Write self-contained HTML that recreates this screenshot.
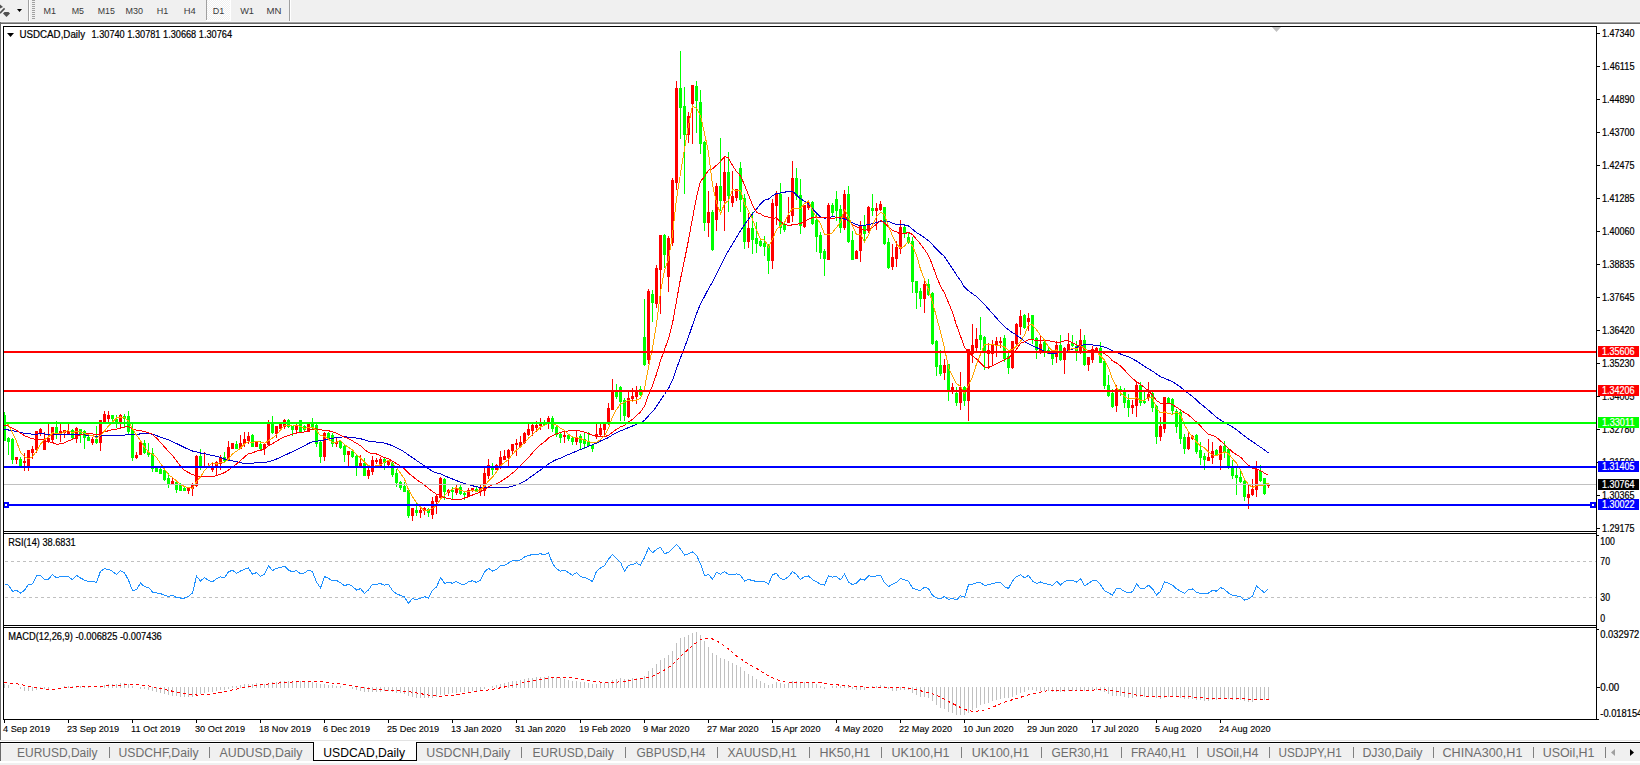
<!DOCTYPE html>
<html><head><meta charset="utf-8"><title>USDCAD,Daily</title>
<style>
html,body{margin:0;padding:0;width:1640px;height:765px;overflow:hidden;background:#f0f0f0;}
svg{display:block;font-family:"Liberation Sans",sans-serif;}
</style></head><body>
<svg width="1640" height="765" viewBox="0 0 1640 765">
<defs>
<pattern id="dith" x="0" y="0" width="2" height="2" patternUnits="userSpaceOnUse"><rect width="2" height="2" fill="#f0f0f0"/><rect width="1" height="1" fill="#fff"/><rect x="1" y="1" width="1" height="1" fill="#fff"/></pattern>
<clipPath id="mainclip"><rect x="4" y="27" width="1592" height="504"/></clipPath>
<clipPath id="rsiclip"><rect x="4" y="534" width="1592" height="91"/></clipPath>
<clipPath id="macdclip"><rect x="4" y="628" width="1592" height="91"/></clipPath>
</defs>
<rect x="0" y="0" width="1640" height="22" fill="#f0f0f0"/><rect x="0" y="21" width="1640" height="1" fill="#f7f7f7"/><rect x="0" y="22" width="1640" height="1" fill="#a0a0a0"/><rect x="0" y="23" width="1640" height="1" fill="#696969"/><path d="M0 4.5 L3 7 L0 8.5 Z" fill="#505050"/><path d="M4.6 8.4 L0 13.2" stroke="#505050" stroke-width="1.6"/><path d="M4.5 12 L8.5 12 L10 13.5 L6.5 17 L3 13.5 Z" fill="#505050"/><path d="M17 9 L22 9 L19.5 12 Z" fill="#000"/><rect x="28" y="0" width="1" height="21" fill="#a0a0a0"/><rect x="29" y="0" width="1" height="21" fill="#fff"/><rect x="32" y="0" width="3" height="1" fill="#a0a0a0"/><rect x="32" y="2" width="3" height="1" fill="#a0a0a0"/><rect x="32" y="4" width="3" height="1" fill="#a0a0a0"/><rect x="32" y="6" width="3" height="1" fill="#a0a0a0"/><rect x="32" y="8" width="3" height="1" fill="#a0a0a0"/><rect x="32" y="10" width="3" height="1" fill="#a0a0a0"/><rect x="32" y="12" width="3" height="1" fill="#a0a0a0"/><rect x="32" y="14" width="3" height="1" fill="#a0a0a0"/><rect x="32" y="16" width="3" height="1" fill="#a0a0a0"/><rect x="32" y="18" width="3" height="1" fill="#a0a0a0"/><rect x="207" y="0" width="24" height="20" fill="url(#dith)" shape-rendering="crispEdges"/><rect x="230" y="0" width="1" height="21" fill="#fff"/><rect x="206" y="20" width="25" height="1" fill="#fff"/><rect x="206" y="0" width="1" height="20" fill="#a0a0a0"/><rect x="289" y="0" width="1" height="21" fill="#a0a0a0"/><rect x="290" y="0" width="1" height="21" fill="#fff"/><text x="43.5" y="13.7" font-size="9.5" fill="#3a3a3a" textLength="12.5" lengthAdjust="spacingAndGlyphs">M1</text><text x="71.7" y="13.7" font-size="9.5" fill="#3a3a3a" textLength="12.3" lengthAdjust="spacingAndGlyphs">M5</text><text x="97.7" y="13.7" font-size="9.5" fill="#3a3a3a" textLength="17.1" lengthAdjust="spacingAndGlyphs">M15</text><text x="125.5" y="13.7" font-size="9.5" fill="#3a3a3a" textLength="17.5" lengthAdjust="spacingAndGlyphs">M30</text><text x="156.8" y="13.7" font-size="9.5" fill="#3a3a3a" textLength="11.5" lengthAdjust="spacingAndGlyphs">H1</text><text x="183.7" y="13.7" font-size="9.5" fill="#3a3a3a" textLength="12.0" lengthAdjust="spacingAndGlyphs">H4</text><text x="212.8" y="13.7" font-size="9.5" fill="#3a3a3a" textLength="11.5" lengthAdjust="spacingAndGlyphs">D1</text><text x="240.2" y="13.7" font-size="9.5" fill="#3a3a3a" textLength="13.8" lengthAdjust="spacingAndGlyphs">W1</text><text x="266.5" y="13.7" font-size="9.5" fill="#3a3a3a" textLength="14.9" lengthAdjust="spacingAndGlyphs">MN</text><rect x="1" y="24" width="1639" height="716" fill="#fff"/><rect x="0" y="22" width="1" height="718" fill="#696969"/><g clip-path="url(#mainclip)" shape-rendering="crispEdges"><rect x="4" y="412" width="1" height="29" fill="#00ff00"/><rect x="3" y="415" width="3" height="26" fill="#00ff00"/><rect x="8" y="437" width="1" height="18" fill="#00ff00"/><rect x="7" y="438" width="3" height="4" fill="#00ff00"/><rect x="12" y="438" width="1" height="26" fill="#00ff00"/><rect x="11" y="439" width="3" height="21" fill="#00ff00"/><rect x="16" y="457" width="1" height="7" fill="#ff0000"/><rect x="15" y="457" width="3" height="3" fill="#ff0000"/><rect x="20" y="457" width="1" height="10" fill="#00ff00"/><rect x="19" y="459" width="3" height="8" fill="#00ff00"/><rect x="24" y="453" width="1" height="18" fill="#ff0000"/><rect x="23" y="461" width="3" height="2" fill="#ff0000"/><rect x="28" y="450" width="1" height="21" fill="#ff0000"/><rect x="27" y="450" width="3" height="17" fill="#ff0000"/><rect x="32" y="446" width="1" height="13" fill="#ff0000"/><rect x="31" y="449" width="3" height="4" fill="#ff0000"/><rect x="36" y="431" width="1" height="22" fill="#ff0000"/><rect x="35" y="431" width="3" height="19" fill="#ff0000"/><rect x="40" y="428" width="1" height="8" fill="#ff0000"/><rect x="39" y="429" width="3" height="5" fill="#ff0000"/><rect x="44" y="432" width="1" height="18" fill="#ff0000"/><rect x="43" y="439" width="3" height="11" fill="#ff0000"/><rect x="48" y="424" width="1" height="19" fill="#ff0000"/><rect x="47" y="438" width="3" height="3" fill="#ff0000"/><rect x="52" y="427" width="1" height="16" fill="#ff0000"/><rect x="51" y="427" width="3" height="13" fill="#ff0000"/><rect x="56" y="421" width="1" height="18" fill="#00ff00"/><rect x="55" y="427" width="3" height="8" fill="#00ff00"/><rect x="60" y="424" width="1" height="18" fill="#ff0000"/><rect x="59" y="431" width="3" height="4" fill="#ff0000"/><rect x="64" y="430" width="1" height="8" fill="#ff0000"/><rect x="63" y="430" width="3" height="3" fill="#ff0000"/><rect x="68" y="424" width="1" height="10" fill="#ff0000"/><rect x="67" y="431" width="3" height="3" fill="#ff0000"/><rect x="72" y="429" width="1" height="11" fill="#00ff00"/><rect x="71" y="430" width="3" height="8" fill="#00ff00"/><rect x="76" y="427" width="1" height="16" fill="#ff0000"/><rect x="75" y="428" width="3" height="11" fill="#ff0000"/><rect x="80" y="429" width="1" height="14" fill="#00ff00"/><rect x="79" y="429" width="3" height="5" fill="#00ff00"/><rect x="84" y="430" width="1" height="19" fill="#00ff00"/><rect x="83" y="431" width="3" height="7" fill="#00ff00"/><rect x="88" y="435" width="1" height="6" fill="#00ff00"/><rect x="87" y="437" width="3" height="4" fill="#00ff00"/><rect x="92" y="437" width="1" height="8" fill="#ff0000"/><rect x="91" y="439" width="3" height="4" fill="#ff0000"/><rect x="96" y="426" width="1" height="18" fill="#00ff00"/><rect x="95" y="439" width="3" height="4" fill="#00ff00"/><rect x="100" y="420" width="1" height="31" fill="#ff0000"/><rect x="99" y="420" width="3" height="23" fill="#ff0000"/><rect x="104" y="411" width="1" height="12" fill="#ff0000"/><rect x="103" y="414" width="3" height="8" fill="#ff0000"/><rect x="108" y="411" width="1" height="12" fill="#ff0000"/><rect x="107" y="415" width="3" height="4" fill="#ff0000"/><rect x="112" y="415" width="1" height="6" fill="#00ff00"/><rect x="111" y="415" width="3" height="4" fill="#00ff00"/><rect x="116" y="415" width="1" height="13" fill="#00ff00"/><rect x="115" y="419" width="3" height="5" fill="#00ff00"/><rect x="120" y="414" width="1" height="15" fill="#ff0000"/><rect x="119" y="415" width="3" height="8" fill="#ff0000"/><rect x="124" y="414" width="1" height="13" fill="#00ff00"/><rect x="123" y="416" width="3" height="3" fill="#00ff00"/><rect x="128" y="411" width="1" height="23" fill="#00ff00"/><rect x="127" y="416" width="3" height="16" fill="#00ff00"/><rect x="132" y="424" width="1" height="37" fill="#00ff00"/><rect x="131" y="429" width="3" height="29" fill="#00ff00"/><rect x="136" y="452" width="1" height="7" fill="#ff0000"/><rect x="135" y="455" width="3" height="3" fill="#ff0000"/><rect x="140" y="442" width="1" height="13" fill="#ff0000"/><rect x="139" y="442" width="3" height="13" fill="#ff0000"/><rect x="144" y="440" width="1" height="14" fill="#00ff00"/><rect x="143" y="443" width="3" height="10" fill="#00ff00"/><rect x="148" y="443" width="1" height="14" fill="#00ff00"/><rect x="147" y="452" width="3" height="3" fill="#00ff00"/><rect x="152" y="448" width="1" height="24" fill="#00ff00"/><rect x="151" y="453" width="3" height="16" fill="#00ff00"/><rect x="156" y="466" width="1" height="6" fill="#00ff00"/><rect x="155" y="467" width="3" height="5" fill="#00ff00"/><rect x="160" y="468" width="1" height="6" fill="#00ff00"/><rect x="159" y="469" width="3" height="5" fill="#00ff00"/><rect x="164" y="469" width="1" height="12" fill="#00ff00"/><rect x="163" y="470" width="3" height="10" fill="#00ff00"/><rect x="168" y="473" width="1" height="15" fill="#00ff00"/><rect x="167" y="478" width="3" height="6" fill="#00ff00"/><rect x="172" y="477" width="1" height="8" fill="#ff0000"/><rect x="171" y="481" width="3" height="4" fill="#ff0000"/><rect x="176" y="480" width="1" height="13" fill="#00ff00"/><rect x="175" y="482" width="3" height="8" fill="#00ff00"/><rect x="180" y="483" width="1" height="8" fill="#00ff00"/><rect x="179" y="484" width="3" height="7" fill="#00ff00"/><rect x="184" y="486" width="1" height="5" fill="#00ff00"/><rect x="183" y="488" width="3" height="3" fill="#00ff00"/><rect x="188" y="487" width="1" height="7" fill="#ff0000"/><rect x="187" y="488" width="3" height="3" fill="#ff0000"/><rect x="192" y="483" width="1" height="13" fill="#ff0000"/><rect x="191" y="484" width="3" height="5" fill="#ff0000"/><rect x="196" y="455" width="1" height="32" fill="#ff0000"/><rect x="195" y="456" width="3" height="30" fill="#ff0000"/><rect x="200" y="449" width="1" height="21" fill="#00ff00"/><rect x="199" y="456" width="3" height="11" fill="#00ff00"/><rect x="204" y="452" width="1" height="15" fill="#ff0000"/><rect x="208" y="463" width="1" height="5" fill="#ff0000"/><rect x="212" y="462" width="1" height="10" fill="#ff0000"/><rect x="211" y="468" width="3" height="2" fill="#ff0000"/><rect x="216" y="461" width="1" height="15" fill="#ff0000"/><rect x="215" y="462" width="3" height="4" fill="#ff0000"/><rect x="220" y="455" width="1" height="15" fill="#ff0000"/><rect x="219" y="458" width="3" height="6" fill="#ff0000"/><rect x="224" y="452" width="1" height="10" fill="#00ff00"/><rect x="223" y="457" width="3" height="4" fill="#00ff00"/><rect x="228" y="441" width="1" height="20" fill="#ff0000"/><rect x="227" y="447" width="3" height="14" fill="#ff0000"/><rect x="232" y="443" width="1" height="6" fill="#ff0000"/><rect x="231" y="443" width="3" height="6" fill="#ff0000"/><rect x="236" y="441" width="1" height="8" fill="#00ff00"/><rect x="235" y="444" width="3" height="5" fill="#00ff00"/><rect x="240" y="435" width="1" height="14" fill="#ff0000"/><rect x="239" y="443" width="3" height="6" fill="#ff0000"/><rect x="244" y="432" width="1" height="15" fill="#ff0000"/><rect x="243" y="439" width="3" height="5" fill="#ff0000"/><rect x="248" y="432" width="1" height="12" fill="#ff0000"/><rect x="247" y="436" width="3" height="5" fill="#ff0000"/><rect x="252" y="434" width="1" height="13" fill="#00ff00"/><rect x="251" y="435" width="3" height="12" fill="#00ff00"/><rect x="256" y="441" width="1" height="6" fill="#ff0000"/><rect x="255" y="442" width="3" height="5" fill="#ff0000"/><rect x="260" y="441" width="1" height="9" fill="#00ff00"/><rect x="259" y="444" width="3" height="5" fill="#00ff00"/><rect x="264" y="443" width="1" height="12" fill="#ff0000"/><rect x="263" y="444" width="3" height="5" fill="#ff0000"/><rect x="268" y="420" width="1" height="26" fill="#ff0000"/><rect x="267" y="424" width="3" height="21" fill="#ff0000"/><rect x="272" y="416" width="1" height="18" fill="#00ff00"/><rect x="271" y="424" width="3" height="9" fill="#00ff00"/><rect x="276" y="426" width="1" height="12" fill="#ff0000"/><rect x="275" y="426" width="3" height="8" fill="#ff0000"/><rect x="280" y="424" width="1" height="5" fill="#ff0000"/><rect x="279" y="424" width="3" height="5" fill="#ff0000"/><rect x="284" y="419" width="1" height="10" fill="#ff0000"/><rect x="283" y="420" width="3" height="7" fill="#ff0000"/><rect x="288" y="419" width="1" height="9" fill="#00ff00"/><rect x="287" y="420" width="3" height="7" fill="#00ff00"/><rect x="292" y="426" width="1" height="10" fill="#00ff00"/><rect x="291" y="426" width="3" height="4" fill="#00ff00"/><rect x="296" y="424" width="1" height="8" fill="#ff0000"/><rect x="295" y="426" width="3" height="4" fill="#ff0000"/><rect x="300" y="420" width="1" height="12" fill="#00ff00"/><rect x="299" y="420" width="3" height="12" fill="#00ff00"/><rect x="304" y="425" width="1" height="6" fill="#00ff00"/><rect x="303" y="426" width="3" height="4" fill="#00ff00"/><rect x="308" y="424" width="1" height="8" fill="#ff0000"/><rect x="307" y="424" width="3" height="8" fill="#ff0000"/><rect x="312" y="418" width="1" height="12" fill="#00ff00"/><rect x="311" y="424" width="3" height="3" fill="#00ff00"/><rect x="316" y="424" width="1" height="23" fill="#00ff00"/><rect x="315" y="425" width="3" height="19" fill="#00ff00"/><rect x="320" y="441" width="1" height="22" fill="#00ff00"/><rect x="319" y="442" width="3" height="15" fill="#00ff00"/><rect x="324" y="432" width="1" height="29" fill="#ff0000"/><rect x="323" y="433" width="3" height="24" fill="#ff0000"/><rect x="328" y="432" width="1" height="6" fill="#00ff00"/><rect x="327" y="433" width="3" height="5" fill="#00ff00"/><rect x="332" y="433" width="1" height="14" fill="#00ff00"/><rect x="331" y="435" width="3" height="9" fill="#00ff00"/><rect x="336" y="438" width="1" height="9" fill="#ff0000"/><rect x="335" y="442" width="3" height="2" fill="#ff0000"/><rect x="340" y="441" width="1" height="8" fill="#00ff00"/><rect x="339" y="441" width="3" height="7" fill="#00ff00"/><rect x="344" y="445" width="1" height="17" fill="#00ff00"/><rect x="343" y="446" width="3" height="9" fill="#00ff00"/><rect x="348" y="451" width="1" height="15" fill="#ff0000"/><rect x="347" y="451" width="3" height="4" fill="#ff0000"/><rect x="352" y="450" width="1" height="8" fill="#00ff00"/><rect x="351" y="451" width="3" height="6" fill="#00ff00"/><rect x="356" y="455" width="1" height="21" fill="#00ff00"/><rect x="355" y="456" width="3" height="10" fill="#00ff00"/><rect x="360" y="455" width="1" height="11" fill="#ff0000"/><rect x="359" y="463" width="3" height="3" fill="#ff0000"/><rect x="364" y="458" width="1" height="18" fill="#00ff00"/><rect x="363" y="463" width="3" height="13" fill="#00ff00"/><rect x="368" y="468" width="1" height="11" fill="#ff0000"/><rect x="367" y="470" width="3" height="6" fill="#ff0000"/><rect x="372" y="456" width="1" height="19" fill="#ff0000"/><rect x="371" y="460" width="3" height="12" fill="#ff0000"/><rect x="376" y="458" width="1" height="6" fill="#ff0000"/><rect x="375" y="460" width="3" height="2" fill="#ff0000"/><rect x="380" y="457" width="1" height="10" fill="#ff0000"/><rect x="379" y="459" width="3" height="7" fill="#ff0000"/><rect x="384" y="458" width="1" height="12" fill="#00ff00"/><rect x="383" y="459" width="3" height="4" fill="#00ff00"/><rect x="388" y="460" width="1" height="6" fill="#ff0000"/><rect x="387" y="461" width="3" height="4" fill="#ff0000"/><rect x="392" y="462" width="1" height="15" fill="#00ff00"/><rect x="391" y="463" width="3" height="12" fill="#00ff00"/><rect x="396" y="469" width="1" height="18" fill="#00ff00"/><rect x="395" y="473" width="3" height="10" fill="#00ff00"/><rect x="400" y="481" width="1" height="9" fill="#00ff00"/><rect x="399" y="482" width="3" height="6" fill="#00ff00"/><rect x="404" y="482" width="1" height="10" fill="#00ff00"/><rect x="403" y="486" width="3" height="6" fill="#00ff00"/><rect x="408" y="488" width="1" height="30" fill="#00ff00"/><rect x="407" y="490" width="3" height="26" fill="#00ff00"/><rect x="412" y="508" width="1" height="13" fill="#ff0000"/><rect x="411" y="508" width="3" height="8" fill="#ff0000"/><rect x="416" y="503" width="1" height="13" fill="#00ff00"/><rect x="415" y="510" width="3" height="3" fill="#00ff00"/><rect x="420" y="506" width="1" height="12" fill="#ff0000"/><rect x="419" y="510" width="3" height="3" fill="#ff0000"/><rect x="424" y="507" width="1" height="8" fill="#ff0000"/><rect x="423" y="508" width="3" height="3" fill="#ff0000"/><rect x="428" y="508" width="1" height="9" fill="#00ff00"/><rect x="427" y="509" width="3" height="4" fill="#00ff00"/><rect x="432" y="497" width="1" height="22" fill="#ff0000"/><rect x="431" y="501" width="3" height="14" fill="#ff0000"/><rect x="436" y="494" width="1" height="20" fill="#ff0000"/><rect x="435" y="496" width="3" height="6" fill="#ff0000"/><rect x="440" y="477" width="1" height="23" fill="#ff0000"/><rect x="439" y="478" width="3" height="20" fill="#ff0000"/><rect x="444" y="478" width="1" height="22" fill="#00ff00"/><rect x="443" y="479" width="3" height="13" fill="#00ff00"/><rect x="448" y="489" width="1" height="7" fill="#ff0000"/><rect x="447" y="490" width="3" height="3" fill="#ff0000"/><rect x="452" y="487" width="1" height="12" fill="#00ff00"/><rect x="451" y="490" width="3" height="2" fill="#00ff00"/><rect x="456" y="484" width="1" height="11" fill="#ff0000"/><rect x="455" y="488" width="3" height="5" fill="#ff0000"/><rect x="460" y="484" width="1" height="11" fill="#00ff00"/><rect x="459" y="487" width="3" height="7" fill="#00ff00"/><rect x="464" y="491" width="1" height="9" fill="#00ff00"/><rect x="463" y="493" width="3" height="2" fill="#00ff00"/><rect x="468" y="488" width="1" height="9" fill="#ff0000"/><rect x="467" y="490" width="3" height="6" fill="#ff0000"/><rect x="472" y="488" width="1" height="4" fill="#ff0000"/><rect x="471" y="488" width="3" height="3" fill="#ff0000"/><rect x="476" y="487" width="1" height="5" fill="#00ff00"/><rect x="475" y="489" width="3" height="3" fill="#00ff00"/><rect x="480" y="484" width="1" height="12" fill="#ff0000"/><rect x="479" y="488" width="3" height="4" fill="#ff0000"/><rect x="484" y="468" width="1" height="28" fill="#ff0000"/><rect x="483" y="473" width="3" height="18" fill="#ff0000"/><rect x="488" y="459" width="1" height="20" fill="#ff0000"/><rect x="487" y="465" width="3" height="11" fill="#ff0000"/><rect x="492" y="463" width="1" height="12" fill="#00ff00"/><rect x="491" y="467" width="3" height="3" fill="#00ff00"/><rect x="496" y="464" width="1" height="6" fill="#ff0000"/><rect x="495" y="465" width="3" height="5" fill="#ff0000"/><rect x="500" y="451" width="1" height="18" fill="#ff0000"/><rect x="499" y="457" width="3" height="11" fill="#ff0000"/><rect x="504" y="450" width="1" height="10" fill="#ff0000"/><rect x="503" y="456" width="3" height="4" fill="#ff0000"/><rect x="508" y="449" width="1" height="17" fill="#ff0000"/><rect x="507" y="450" width="3" height="8" fill="#ff0000"/><rect x="512" y="444" width="1" height="11" fill="#ff0000"/><rect x="511" y="444" width="3" height="7" fill="#ff0000"/><rect x="516" y="439" width="1" height="17" fill="#ff0000"/><rect x="515" y="443" width="3" height="2" fill="#ff0000"/><rect x="520" y="436" width="1" height="12" fill="#ff0000"/><rect x="519" y="442" width="3" height="5" fill="#ff0000"/><rect x="524" y="432" width="1" height="12" fill="#ff0000"/><rect x="523" y="433" width="3" height="10" fill="#ff0000"/><rect x="528" y="424" width="1" height="12" fill="#ff0000"/><rect x="527" y="429" width="3" height="6" fill="#ff0000"/><rect x="532" y="424" width="1" height="12" fill="#ff0000"/><rect x="531" y="425" width="3" height="6" fill="#ff0000"/><rect x="536" y="421" width="1" height="11" fill="#ff0000"/><rect x="535" y="425" width="3" height="3" fill="#ff0000"/><rect x="540" y="418" width="1" height="12" fill="#ff0000"/><rect x="539" y="423" width="3" height="3" fill="#ff0000"/><rect x="544" y="420" width="1" height="6" fill="#00ff00"/><rect x="543" y="422" width="3" height="3" fill="#00ff00"/><rect x="548" y="416" width="1" height="13" fill="#ff0000"/><rect x="547" y="418" width="3" height="5" fill="#ff0000"/><rect x="552" y="416" width="1" height="16" fill="#00ff00"/><rect x="551" y="418" width="3" height="11" fill="#00ff00"/><rect x="556" y="426" width="1" height="11" fill="#00ff00"/><rect x="555" y="427" width="3" height="8" fill="#00ff00"/><rect x="560" y="433" width="1" height="10" fill="#00ff00"/><rect x="559" y="434" width="3" height="4" fill="#00ff00"/><rect x="564" y="431" width="1" height="12" fill="#ff0000"/><rect x="563" y="435" width="3" height="2" fill="#ff0000"/><rect x="568" y="434" width="1" height="7" fill="#00ff00"/><rect x="567" y="435" width="3" height="4" fill="#00ff00"/><rect x="572" y="437" width="1" height="8" fill="#00ff00"/><rect x="571" y="438" width="3" height="4" fill="#00ff00"/><rect x="576" y="431" width="1" height="14" fill="#ff0000"/><rect x="575" y="437" width="3" height="5" fill="#ff0000"/><rect x="580" y="434" width="1" height="15" fill="#00ff00"/><rect x="579" y="436" width="3" height="7" fill="#00ff00"/><rect x="584" y="433" width="1" height="16" fill="#00ff00"/><rect x="583" y="439" width="3" height="5" fill="#00ff00"/><rect x="588" y="432" width="1" height="15" fill="#00ff00"/><rect x="587" y="442" width="3" height="4" fill="#00ff00"/><rect x="592" y="444" width="1" height="8" fill="#00ff00"/><rect x="591" y="445" width="3" height="4" fill="#00ff00"/><rect x="596" y="424" width="1" height="15" fill="#ff0000"/><rect x="595" y="434" width="3" height="3" fill="#ff0000"/><rect x="600" y="424" width="1" height="12" fill="#ff0000"/><rect x="599" y="428" width="3" height="7" fill="#ff0000"/><rect x="604" y="424" width="1" height="11" fill="#ff0000"/><rect x="603" y="424" width="3" height="6" fill="#ff0000"/><rect x="608" y="403" width="1" height="22" fill="#ff0000"/><rect x="607" y="408" width="3" height="15" fill="#ff0000"/><rect x="612" y="379" width="1" height="31" fill="#ff0000"/><rect x="611" y="391" width="3" height="19" fill="#ff0000"/><rect x="616" y="384" width="1" height="15" fill="#00ff00"/><rect x="615" y="392" width="3" height="5" fill="#00ff00"/><rect x="620" y="386" width="1" height="35" fill="#00ff00"/><rect x="619" y="387" width="3" height="15" fill="#00ff00"/><rect x="624" y="398" width="1" height="23" fill="#00ff00"/><rect x="623" y="400" width="3" height="16" fill="#00ff00"/><rect x="628" y="392" width="1" height="26" fill="#ff0000"/><rect x="627" y="398" width="3" height="19" fill="#ff0000"/><rect x="632" y="388" width="1" height="14" fill="#ff0000"/><rect x="631" y="396" width="3" height="3" fill="#ff0000"/><rect x="636" y="386" width="1" height="18" fill="#ff0000"/><rect x="635" y="390" width="3" height="7" fill="#ff0000"/><rect x="640" y="386" width="1" height="10" fill="#00ff00"/><rect x="639" y="389" width="3" height="6" fill="#00ff00"/><rect x="644" y="299" width="1" height="67" fill="#00ff00"/><rect x="643" y="337" width="3" height="28" fill="#00ff00"/><rect x="648" y="289" width="1" height="75" fill="#ff0000"/><rect x="647" y="291" width="3" height="69" fill="#ff0000"/><rect x="652" y="290" width="1" height="32" fill="#00ff00"/><rect x="651" y="294" width="3" height="9" fill="#00ff00"/><rect x="656" y="265" width="1" height="43" fill="#ff0000"/><rect x="655" y="268" width="3" height="36" fill="#ff0000"/><rect x="660" y="235" width="1" height="79" fill="#ff0000"/><rect x="659" y="235" width="3" height="35" fill="#ff0000"/><rect x="664" y="234" width="1" height="34" fill="#00ff00"/><rect x="663" y="235" width="3" height="20" fill="#00ff00"/><rect x="668" y="236" width="1" height="56" fill="#ff0000"/><rect x="667" y="238" width="3" height="39" fill="#ff0000"/><rect x="672" y="178" width="1" height="68" fill="#ff0000"/><rect x="671" y="180" width="3" height="63" fill="#ff0000"/><rect x="676" y="81" width="1" height="109" fill="#ff0000"/><rect x="675" y="88" width="3" height="95" fill="#ff0000"/><rect x="680" y="51" width="1" height="88" fill="#00ff00"/><rect x="679" y="88" width="3" height="20" fill="#00ff00"/><rect x="684" y="87" width="1" height="107" fill="#00ff00"/><rect x="683" y="106" width="3" height="29" fill="#00ff00"/><rect x="688" y="112" width="1" height="31" fill="#ff0000"/><rect x="687" y="116" width="3" height="19" fill="#ff0000"/><rect x="692" y="85" width="1" height="59" fill="#ff0000"/><rect x="691" y="85" width="3" height="19" fill="#ff0000"/><rect x="696" y="81" width="1" height="52" fill="#00ff00"/><rect x="695" y="86" width="3" height="15" fill="#00ff00"/><rect x="700" y="90" width="1" height="64" fill="#00ff00"/><rect x="699" y="102" width="3" height="42" fill="#00ff00"/><rect x="704" y="141" width="1" height="90" fill="#00ff00"/><rect x="703" y="142" width="3" height="81" fill="#00ff00"/><rect x="708" y="191" width="1" height="46" fill="#ff0000"/><rect x="707" y="212" width="3" height="11" fill="#ff0000"/><rect x="712" y="210" width="1" height="41" fill="#00ff00"/><rect x="711" y="212" width="3" height="38" fill="#00ff00"/><rect x="716" y="183" width="1" height="48" fill="#ff0000"/><rect x="715" y="186" width="3" height="34" fill="#ff0000"/><rect x="720" y="138" width="1" height="73" fill="#00ff00"/><rect x="719" y="186" width="3" height="15" fill="#00ff00"/><rect x="724" y="157" width="1" height="74" fill="#ff0000"/><rect x="723" y="172" width="3" height="29" fill="#ff0000"/><rect x="728" y="152" width="1" height="60" fill="#00ff00"/><rect x="727" y="172" width="3" height="24" fill="#00ff00"/><rect x="732" y="171" width="1" height="36" fill="#ff0000"/><rect x="731" y="196" width="3" height="7" fill="#ff0000"/><rect x="736" y="189" width="1" height="12" fill="#ff0000"/><rect x="735" y="189" width="3" height="9" fill="#ff0000"/><rect x="740" y="162" width="1" height="50" fill="#00ff00"/><rect x="739" y="168" width="3" height="32" fill="#00ff00"/><rect x="744" y="194" width="1" height="55" fill="#00ff00"/><rect x="743" y="198" width="3" height="44" fill="#00ff00"/><rect x="748" y="213" width="1" height="35" fill="#ff0000"/><rect x="747" y="228" width="3" height="14" fill="#ff0000"/><rect x="752" y="212" width="1" height="42" fill="#00ff00"/><rect x="751" y="228" width="3" height="12" fill="#00ff00"/><rect x="756" y="222" width="1" height="31" fill="#00ff00"/><rect x="755" y="238" width="3" height="6" fill="#00ff00"/><rect x="760" y="240" width="1" height="7" fill="#00ff00"/><rect x="759" y="241" width="3" height="5" fill="#00ff00"/><rect x="764" y="236" width="1" height="20" fill="#00ff00"/><rect x="763" y="243" width="3" height="4" fill="#00ff00"/><rect x="768" y="244" width="1" height="30" fill="#00ff00"/><rect x="767" y="246" width="3" height="15" fill="#00ff00"/><rect x="772" y="199" width="1" height="70" fill="#ff0000"/><rect x="771" y="203" width="3" height="58" fill="#ff0000"/><rect x="776" y="191" width="1" height="34" fill="#ff0000"/><rect x="775" y="194" width="3" height="12" fill="#ff0000"/><rect x="780" y="183" width="1" height="51" fill="#00ff00"/><rect x="779" y="194" width="3" height="34" fill="#00ff00"/><rect x="784" y="222" width="1" height="10" fill="#00ff00"/><rect x="783" y="224" width="3" height="6" fill="#00ff00"/><rect x="788" y="197" width="1" height="26" fill="#ff0000"/><rect x="787" y="215" width="3" height="8" fill="#ff0000"/><rect x="792" y="161" width="1" height="61" fill="#ff0000"/><rect x="791" y="178" width="3" height="38" fill="#ff0000"/><rect x="796" y="168" width="1" height="32" fill="#00ff00"/><rect x="795" y="178" width="3" height="18" fill="#00ff00"/><rect x="800" y="179" width="1" height="55" fill="#00ff00"/><rect x="799" y="195" width="3" height="31" fill="#00ff00"/><rect x="804" y="205" width="1" height="23" fill="#ff0000"/><rect x="803" y="205" width="3" height="22" fill="#ff0000"/><rect x="808" y="200" width="1" height="10" fill="#ff0000"/><rect x="807" y="202" width="3" height="6" fill="#ff0000"/><rect x="812" y="201" width="1" height="24" fill="#00ff00"/><rect x="811" y="202" width="3" height="22" fill="#00ff00"/><rect x="816" y="213" width="1" height="39" fill="#00ff00"/><rect x="815" y="220" width="3" height="17" fill="#00ff00"/><rect x="820" y="232" width="1" height="27" fill="#00ff00"/><rect x="819" y="235" width="3" height="18" fill="#00ff00"/><rect x="824" y="249" width="1" height="27" fill="#00ff00"/><rect x="823" y="251" width="3" height="8" fill="#00ff00"/><rect x="828" y="203" width="1" height="57" fill="#ff0000"/><rect x="827" y="205" width="3" height="55" fill="#ff0000"/><rect x="832" y="203" width="1" height="14" fill="#00ff00"/><rect x="831" y="205" width="3" height="8" fill="#00ff00"/><rect x="836" y="191" width="1" height="30" fill="#00ff00"/><rect x="835" y="199" width="3" height="12" fill="#00ff00"/><rect x="840" y="205" width="1" height="28" fill="#00ff00"/><rect x="839" y="209" width="3" height="19" fill="#00ff00"/><rect x="844" y="190" width="1" height="40" fill="#ff0000"/><rect x="843" y="194" width="3" height="34" fill="#ff0000"/><rect x="848" y="186" width="1" height="57" fill="#00ff00"/><rect x="847" y="194" width="3" height="48" fill="#00ff00"/><rect x="852" y="231" width="1" height="29" fill="#00ff00"/><rect x="851" y="240" width="3" height="20" fill="#00ff00"/><rect x="856" y="250" width="1" height="9" fill="#ff0000"/><rect x="855" y="251" width="3" height="8" fill="#ff0000"/><rect x="860" y="221" width="1" height="41" fill="#ff0000"/><rect x="859" y="225" width="3" height="26" fill="#ff0000"/><rect x="864" y="215" width="1" height="27" fill="#00ff00"/><rect x="863" y="225" width="3" height="9" fill="#00ff00"/><rect x="868" y="206" width="1" height="27" fill="#ff0000"/><rect x="867" y="207" width="3" height="24" fill="#ff0000"/><rect x="872" y="194" width="1" height="22" fill="#00ff00"/><rect x="871" y="208" width="3" height="3" fill="#00ff00"/><rect x="876" y="203" width="1" height="27" fill="#ff0000"/><rect x="875" y="208" width="3" height="3" fill="#ff0000"/><rect x="880" y="201" width="1" height="10" fill="#ff0000"/><rect x="879" y="204" width="3" height="6" fill="#ff0000"/><rect x="884" y="207" width="1" height="38" fill="#00ff00"/><rect x="883" y="207" width="3" height="37" fill="#00ff00"/><rect x="888" y="238" width="1" height="31" fill="#00ff00"/><rect x="887" y="242" width="3" height="26" fill="#00ff00"/><rect x="892" y="244" width="1" height="26" fill="#ff0000"/><rect x="891" y="257" width="3" height="10" fill="#ff0000"/><rect x="896" y="241" width="1" height="26" fill="#ff0000"/><rect x="895" y="247" width="3" height="12" fill="#ff0000"/><rect x="900" y="220" width="1" height="34" fill="#ff0000"/><rect x="899" y="227" width="3" height="22" fill="#ff0000"/><rect x="904" y="226" width="1" height="12" fill="#00ff00"/><rect x="903" y="227" width="3" height="7" fill="#00ff00"/><rect x="908" y="232" width="1" height="12" fill="#00ff00"/><rect x="907" y="237" width="3" height="6" fill="#00ff00"/><rect x="912" y="237" width="1" height="56" fill="#00ff00"/><rect x="911" y="241" width="3" height="41" fill="#00ff00"/><rect x="916" y="281" width="1" height="28" fill="#00ff00"/><rect x="915" y="281" width="3" height="12" fill="#00ff00"/><rect x="920" y="288" width="1" height="19" fill="#00ff00"/><rect x="919" y="291" width="3" height="8" fill="#00ff00"/><rect x="924" y="281" width="1" height="32" fill="#ff0000"/><rect x="923" y="284" width="3" height="15" fill="#ff0000"/><rect x="928" y="279" width="1" height="17" fill="#00ff00"/><rect x="927" y="284" width="3" height="11" fill="#00ff00"/><rect x="932" y="292" width="1" height="53" fill="#00ff00"/><rect x="931" y="293" width="3" height="51" fill="#00ff00"/><rect x="936" y="340" width="1" height="36" fill="#00ff00"/><rect x="935" y="341" width="3" height="26" fill="#00ff00"/><rect x="940" y="350" width="1" height="26" fill="#00ff00"/><rect x="939" y="365" width="3" height="9" fill="#00ff00"/><rect x="944" y="359" width="1" height="21" fill="#ff0000"/><rect x="943" y="365" width="3" height="8" fill="#ff0000"/><rect x="948" y="364" width="1" height="37" fill="#00ff00"/><rect x="947" y="364" width="3" height="28" fill="#00ff00"/><rect x="952" y="383" width="1" height="11" fill="#ff0000"/><rect x="951" y="387" width="3" height="5" fill="#ff0000"/><rect x="956" y="387" width="1" height="19" fill="#00ff00"/><rect x="955" y="393" width="3" height="10" fill="#00ff00"/><rect x="960" y="372" width="1" height="38" fill="#ff0000"/><rect x="959" y="387" width="3" height="16" fill="#ff0000"/><rect x="964" y="386" width="1" height="20" fill="#00ff00"/><rect x="963" y="387" width="3" height="14" fill="#00ff00"/><rect x="968" y="349" width="1" height="72" fill="#ff0000"/><rect x="967" y="349" width="3" height="52" fill="#ff0000"/><rect x="972" y="324" width="1" height="39" fill="#ff0000"/><rect x="971" y="345" width="3" height="9" fill="#ff0000"/><rect x="976" y="328" width="1" height="23" fill="#ff0000"/><rect x="975" y="339" width="3" height="9" fill="#ff0000"/><rect x="980" y="317" width="1" height="33" fill="#00ff00"/><rect x="979" y="335" width="3" height="5" fill="#00ff00"/><rect x="984" y="336" width="1" height="34" fill="#00ff00"/><rect x="983" y="337" width="3" height="15" fill="#00ff00"/><rect x="988" y="343" width="1" height="26" fill="#ff0000"/><rect x="987" y="350" width="3" height="4" fill="#ff0000"/><rect x="992" y="340" width="1" height="25" fill="#ff0000"/><rect x="991" y="345" width="3" height="9" fill="#ff0000"/><rect x="996" y="337" width="1" height="20" fill="#ff0000"/><rect x="995" y="341" width="3" height="5" fill="#ff0000"/><rect x="1000" y="337" width="1" height="11" fill="#ff0000"/><rect x="999" y="341" width="3" height="2" fill="#ff0000"/><rect x="1004" y="335" width="1" height="27" fill="#00ff00"/><rect x="1003" y="338" width="3" height="21" fill="#00ff00"/><rect x="1008" y="353" width="1" height="21" fill="#00ff00"/><rect x="1007" y="356" width="3" height="12" fill="#00ff00"/><rect x="1012" y="341" width="1" height="28" fill="#ff0000"/><rect x="1011" y="341" width="3" height="27" fill="#ff0000"/><rect x="1016" y="323" width="1" height="23" fill="#ff0000"/><rect x="1015" y="324" width="3" height="20" fill="#ff0000"/><rect x="1020" y="310" width="1" height="25" fill="#ff0000"/><rect x="1019" y="316" width="3" height="11" fill="#ff0000"/><rect x="1024" y="314" width="1" height="15" fill="#00ff00"/><rect x="1023" y="315" width="3" height="13" fill="#00ff00"/><rect x="1028" y="313" width="1" height="18" fill="#ff0000"/><rect x="1027" y="318" width="3" height="4" fill="#ff0000"/><rect x="1032" y="315" width="1" height="29" fill="#00ff00"/><rect x="1031" y="315" width="3" height="25" fill="#00ff00"/><rect x="1036" y="337" width="1" height="22" fill="#00ff00"/><rect x="1035" y="338" width="3" height="12" fill="#00ff00"/><rect x="1040" y="336" width="1" height="18" fill="#ff0000"/><rect x="1039" y="344" width="3" height="7" fill="#ff0000"/><rect x="1044" y="341" width="1" height="16" fill="#00ff00"/><rect x="1043" y="342" width="3" height="9" fill="#00ff00"/><rect x="1048" y="348" width="1" height="6" fill="#00ff00"/><rect x="1047" y="350" width="3" height="4" fill="#00ff00"/><rect x="1052" y="351" width="1" height="14" fill="#00ff00"/><rect x="1051" y="353" width="3" height="6" fill="#00ff00"/><rect x="1056" y="341" width="1" height="22" fill="#ff0000"/><rect x="1055" y="345" width="3" height="12" fill="#ff0000"/><rect x="1060" y="335" width="1" height="26" fill="#00ff00"/><rect x="1059" y="345" width="3" height="15" fill="#00ff00"/><rect x="1064" y="347" width="1" height="27" fill="#ff0000"/><rect x="1063" y="348" width="3" height="12" fill="#ff0000"/><rect x="1068" y="333" width="1" height="18" fill="#ff0000"/><rect x="1067" y="344" width="3" height="6" fill="#ff0000"/><rect x="1072" y="335" width="1" height="12" fill="#00ff00"/><rect x="1071" y="343" width="3" height="3" fill="#00ff00"/><rect x="1076" y="341" width="1" height="20" fill="#00ff00"/><rect x="1075" y="346" width="3" height="5" fill="#00ff00"/><rect x="1080" y="329" width="1" height="25" fill="#ff0000"/><rect x="1079" y="340" width="3" height="13" fill="#ff0000"/><rect x="1084" y="335" width="1" height="31" fill="#00ff00"/><rect x="1083" y="340" width="3" height="25" fill="#00ff00"/><rect x="1088" y="357" width="1" height="14" fill="#ff0000"/><rect x="1087" y="357" width="3" height="8" fill="#ff0000"/><rect x="1092" y="346" width="1" height="17" fill="#ff0000"/><rect x="1091" y="349" width="3" height="11" fill="#ff0000"/><rect x="1096" y="347" width="1" height="5" fill="#ff0000"/><rect x="1095" y="348" width="3" height="3" fill="#ff0000"/><rect x="1100" y="342" width="1" height="21" fill="#00ff00"/><rect x="1099" y="348" width="3" height="15" fill="#00ff00"/><rect x="1104" y="360" width="1" height="29" fill="#00ff00"/><rect x="1103" y="361" width="3" height="25" fill="#00ff00"/><rect x="1108" y="375" width="1" height="22" fill="#00ff00"/><rect x="1107" y="385" width="3" height="11" fill="#00ff00"/><rect x="1112" y="389" width="1" height="19" fill="#00ff00"/><rect x="1111" y="393" width="3" height="14" fill="#00ff00"/><rect x="1116" y="385" width="1" height="27" fill="#ff0000"/><rect x="1115" y="389" width="3" height="17" fill="#ff0000"/><rect x="1120" y="386" width="1" height="10" fill="#00ff00"/><rect x="1119" y="389" width="3" height="2" fill="#00ff00"/><rect x="1124" y="388" width="1" height="20" fill="#00ff00"/><rect x="1123" y="390" width="3" height="13" fill="#00ff00"/><rect x="1128" y="394" width="1" height="23" fill="#00ff00"/><rect x="1127" y="400" width="3" height="8" fill="#00ff00"/><rect x="1132" y="400" width="1" height="14" fill="#ff0000"/><rect x="1131" y="405" width="3" height="3" fill="#ff0000"/><rect x="1136" y="381" width="1" height="36" fill="#ff0000"/><rect x="1135" y="385" width="3" height="21" fill="#ff0000"/><rect x="1140" y="382" width="1" height="24" fill="#00ff00"/><rect x="1139" y="385" width="3" height="18" fill="#00ff00"/><rect x="1144" y="392" width="1" height="12" fill="#00ff00"/><rect x="1143" y="401" width="3" height="2" fill="#00ff00"/><rect x="1148" y="382" width="1" height="19" fill="#ff0000"/><rect x="1147" y="394" width="3" height="4" fill="#ff0000"/><rect x="1152" y="392" width="1" height="20" fill="#00ff00"/><rect x="1151" y="393" width="3" height="15" fill="#00ff00"/><rect x="1156" y="405" width="1" height="39" fill="#00ff00"/><rect x="1155" y="406" width="3" height="31" fill="#00ff00"/><rect x="1160" y="417" width="1" height="24" fill="#ff0000"/><rect x="1159" y="426" width="3" height="11" fill="#ff0000"/><rect x="1164" y="397" width="1" height="36" fill="#ff0000"/><rect x="1163" y="397" width="3" height="32" fill="#ff0000"/><rect x="1168" y="397" width="1" height="7" fill="#00ff00"/><rect x="1167" y="398" width="3" height="5" fill="#00ff00"/><rect x="1172" y="398" width="1" height="17" fill="#00ff00"/><rect x="1171" y="399" width="3" height="12" fill="#00ff00"/><rect x="1176" y="409" width="1" height="24" fill="#00ff00"/><rect x="1175" y="411" width="3" height="16" fill="#00ff00"/><rect x="1180" y="410" width="1" height="34" fill="#00ff00"/><rect x="1179" y="412" width="3" height="27" fill="#00ff00"/><rect x="1184" y="434" width="1" height="20" fill="#00ff00"/><rect x="1183" y="437" width="3" height="12" fill="#00ff00"/><rect x="1188" y="431" width="1" height="19" fill="#ff0000"/><rect x="1187" y="437" width="3" height="12" fill="#ff0000"/><rect x="1192" y="435" width="1" height="5" fill="#ff0000"/><rect x="1191" y="436" width="3" height="3" fill="#ff0000"/><rect x="1196" y="434" width="1" height="20" fill="#00ff00"/><rect x="1195" y="435" width="3" height="17" fill="#00ff00"/><rect x="1200" y="442" width="1" height="23" fill="#00ff00"/><rect x="1199" y="450" width="3" height="8" fill="#00ff00"/><rect x="1204" y="453" width="1" height="17" fill="#00ff00"/><rect x="1203" y="456" width="3" height="4" fill="#00ff00"/><rect x="1208" y="439" width="1" height="22" fill="#ff0000"/><rect x="1207" y="457" width="3" height="4" fill="#ff0000"/><rect x="1212" y="442" width="1" height="22" fill="#ff0000"/><rect x="1211" y="451" width="3" height="7" fill="#ff0000"/><rect x="1216" y="449" width="1" height="7" fill="#00ff00"/><rect x="1215" y="450" width="3" height="5" fill="#00ff00"/><rect x="1220" y="445" width="1" height="25" fill="#ff0000"/><rect x="1219" y="446" width="3" height="14" fill="#ff0000"/><rect x="1224" y="441" width="1" height="17" fill="#00ff00"/><rect x="1223" y="446" width="3" height="7" fill="#00ff00"/><rect x="1228" y="449" width="1" height="20" fill="#00ff00"/><rect x="1227" y="449" width="3" height="18" fill="#00ff00"/><rect x="1232" y="460" width="1" height="19" fill="#00ff00"/><rect x="1231" y="466" width="3" height="10" fill="#00ff00"/><rect x="1236" y="468" width="1" height="27" fill="#00ff00"/><rect x="1235" y="475" width="3" height="3" fill="#00ff00"/><rect x="1240" y="471" width="1" height="12" fill="#00ff00"/><rect x="1239" y="477" width="3" height="5" fill="#00ff00"/><rect x="1244" y="480" width="1" height="21" fill="#00ff00"/><rect x="1243" y="481" width="3" height="16" fill="#00ff00"/><rect x="1248" y="485" width="1" height="24" fill="#ff0000"/><rect x="1247" y="494" width="3" height="4" fill="#ff0000"/><rect x="1252" y="479" width="1" height="17" fill="#ff0000"/><rect x="1251" y="489" width="3" height="6" fill="#ff0000"/><rect x="1256" y="461" width="1" height="36" fill="#ff0000"/><rect x="1255" y="469" width="3" height="21" fill="#ff0000"/><rect x="1260" y="465" width="1" height="17" fill="#00ff00"/><rect x="1259" y="471" width="3" height="10" fill="#00ff00"/><rect x="1264" y="478" width="1" height="17" fill="#00ff00"/><rect x="1263" y="478" width="3" height="16" fill="#00ff00"/><rect x="1268" y="484" width="1" height="4" fill="#ff0000"/><rect x="1267" y="484" width="3" height="2" fill="#ff0000"/></g><polyline points="4.5,429.9 8.5,430.0 12.5,430.7 16.5,431.4 20.5,432.4 24.5,433.3 28.5,433.7 32.5,434.2 36.5,434.1 40.5,433.9 44.5,434.0 48.5,434.2 52.5,434.0 56.5,434.1 60.5,434.1 64.5,434.1 68.5,434.1 72.5,434.4 76.5,434.4 80.5,434.7 84.5,435.0 88.5,435.4 92.5,435.9 96.5,436.4 100.5,436.1 104.5,435.7 108.5,435.4 112.5,435.3 116.5,435.6 120.5,435.8 124.5,435.1 128.5,434.7 132.5,434.7 136.5,434.6 140.5,433.8 144.5,433.5 148.5,433.6 152.5,434.3 156.5,435.6 160.5,437.1 164.5,438.4 168.5,439.9 172.5,441.7 176.5,443.5 180.5,445.5 184.5,447.5 188.5,449.4 192.5,451.0 196.5,451.9 200.5,453.0 204.5,453.7 208.5,454.6 212.5,455.5 216.5,456.2 220.5,457.5 224.5,459.0 228.5,460.1 232.5,460.9 236.5,461.7 240.5,462.7 244.5,463.4 248.5,463.5 252.5,463.2 256.5,462.7 260.5,462.9 264.5,462.7 268.5,461.7 272.5,460.5 276.5,459.0 280.5,457.3 284.5,455.4 288.5,453.5 292.5,451.7 296.5,449.6 300.5,447.7 304.5,445.6 308.5,443.5 312.5,441.6 316.5,441.1 320.5,440.8 324.5,439.9 328.5,439.0 332.5,438.2 336.5,437.5 340.5,437.1 344.5,436.9 348.5,437.1 352.5,437.5 356.5,438.1 360.5,438.7 364.5,439.9 368.5,441.1 372.5,441.5 376.5,442.1 380.5,442.5 384.5,443.1 388.5,444.3 392.5,445.7 396.5,447.6 400.5,449.7 404.5,452.1 408.5,455.0 412.5,457.7 416.5,460.5 420.5,463.2 424.5,465.8 428.5,468.7 432.5,471.2 436.5,473.0 440.5,473.7 444.5,475.7 448.5,477.4 452.5,479.0 456.5,480.6 460.5,482.1 464.5,483.4 468.5,484.7 472.5,485.8 476.5,486.7 480.5,487.5 484.5,487.4 488.5,487.3 492.5,487.6 496.5,487.7 500.5,487.7 504.5,487.5 508.5,487.1 512.5,486.1 516.5,484.8 520.5,483.3 524.5,481.4 528.5,478.5 532.5,475.7 536.5,472.8 540.5,469.9 544.5,467.1 548.5,464.0 552.5,461.6 556.5,459.5 560.5,458.1 564.5,456.3 568.5,454.5 572.5,452.9 576.5,451.2 580.5,449.5 584.5,447.8 588.5,446.3 592.5,444.9 596.5,443.0 600.5,441.0 604.5,439.4 608.5,437.5 612.5,434.9 616.5,432.6 620.5,430.7 624.5,429.4 628.5,427.6 632.5,426.0 636.5,424.3 640.5,422.7 644.5,420.4 648.5,415.8 652.5,411.7 656.5,406.4 660.5,400.2 664.5,394.5 668.5,388.5 672.5,380.2 676.5,368.7 680.5,357.7 684.5,347.7 688.5,336.9 692.5,325.1 696.5,313.8 700.5,303.9 704.5,296.5 708.5,288.7 712.5,282.1 716.5,273.8 720.5,266.2 724.5,257.8 728.5,250.7 732.5,244.2 736.5,237.3 740.5,230.6 744.5,224.8 748.5,219.1 752.5,213.9 756.5,209.0 760.5,204.0 764.5,200.1 768.5,199.1 772.5,195.8 776.5,193.3 780.5,193.0 784.5,192.2 788.5,191.4 792.5,191.4 796.5,194.9 800.5,198.9 804.5,201.2 808.5,204.1 812.5,208.7 816.5,213.2 820.5,216.9 824.5,218.1 828.5,217.8 832.5,216.6 836.5,217.4 840.5,218.3 844.5,219.0 848.5,220.6 852.5,222.7 856.5,224.7 860.5,225.6 864.5,225.3 868.5,224.6 872.5,223.7 876.5,222.5 880.5,221.1 884.5,221.0 888.5,221.3 892.5,223.1 896.5,224.8 900.5,224.8 904.5,225.0 908.5,225.9 912.5,229.3 916.5,232.5 920.5,235.0 924.5,237.6 928.5,240.7 932.5,244.7 936.5,249.0 940.5,253.0 944.5,256.6 948.5,262.8 952.5,268.6 956.5,275.0 960.5,280.4 964.5,287.2 968.5,290.8 972.5,293.7 976.5,296.6 980.5,300.4 984.5,304.4 988.5,309.1 992.5,313.6 996.5,318.1 1000.5,322.6 1004.5,326.5 1008.5,329.8 1012.5,332.6 1016.5,335.2 1020.5,338.1 1024.5,341.3 1028.5,343.8 1032.5,345.7 1036.5,347.6 1040.5,349.2 1044.5,351.4 1048.5,353.3 1052.5,353.8 1056.5,353.1 1060.5,352.7 1064.5,352.1 1068.5,350.5 1072.5,349.1 1076.5,347.4 1080.5,345.8 1084.5,344.6 1088.5,344.9 1092.5,345.0 1096.5,345.3 1100.5,346.1 1104.5,347.2 1108.5,348.7 1112.5,350.8 1116.5,352.4 1120.5,354.0 1124.5,355.5 1128.5,356.8 1132.5,358.9 1136.5,361.0 1140.5,363.8 1144.5,366.3 1148.5,368.9 1152.5,371.1 1156.5,374.0 1160.5,376.8 1164.5,378.3 1168.5,380.0 1172.5,381.7 1176.5,384.4 1180.5,387.0 1184.5,390.4 1188.5,393.5 1192.5,396.5 1196.5,399.9 1200.5,403.8 1204.5,406.9 1208.5,410.3 1212.5,413.7 1216.5,417.2 1220.5,420.0 1224.5,422.2 1228.5,424.6 1232.5,426.9 1236.5,429.8 1240.5,432.9 1244.5,436.0 1248.5,438.9 1252.5,441.7 1256.5,444.5 1260.5,447.1 1264.5,450.1 1268.5,453.1" fill="none" stroke="#0000cd" stroke-width="1" shape-rendering="crispEdges" clip-path="url(#mainclip)"/><polyline points="4.5,425.1 8.5,426.0 12.5,428.2 16.5,430.4 20.5,433.2 24.5,435.7 28.5,437.3 32.5,438.9 36.5,439.2 40.5,439.4 44.5,440.4 48.5,441.7 52.5,442.6 56.5,444.4 60.5,443.7 64.5,442.9 68.5,440.9 72.5,439.5 76.5,436.8 80.5,434.8 84.5,433.9 88.5,433.2 92.5,433.8 96.5,434.7 100.5,433.4 104.5,431.6 108.5,430.8 112.5,429.6 116.5,429.1 120.5,428.0 124.5,427.1 128.5,426.6 132.5,428.7 136.5,430.3 140.5,430.6 144.5,431.5 148.5,432.6 152.5,434.4 156.5,438.1 160.5,442.3 164.5,446.9 168.5,451.5 172.5,455.6 176.5,460.9 180.5,466.1 184.5,470.3 188.5,472.5 192.5,474.6 196.5,475.6 200.5,476.6 204.5,476.9 208.5,476.7 212.5,476.5 216.5,475.7 220.5,474.2 224.5,472.6 228.5,470.1 232.5,466.9 236.5,463.9 240.5,460.5 244.5,457.0 248.5,453.6 252.5,452.9 256.5,451.1 260.5,450.4 264.5,448.9 268.5,445.7 272.5,443.6 276.5,441.3 280.5,438.7 284.5,436.8 288.5,435.6 292.5,434.2 296.5,433.0 300.5,432.4 304.5,431.9 308.5,430.4 312.5,429.2 316.5,428.9 320.5,429.7 324.5,430.4 328.5,430.7 332.5,431.9 336.5,433.2 340.5,435.1 344.5,437.1 348.5,438.7 352.5,440.9 356.5,443.3 360.5,445.7 364.5,449.4 368.5,452.5 372.5,453.7 376.5,454.0 380.5,455.9 384.5,457.6 388.5,458.9 392.5,461.2 396.5,463.7 400.5,466.1 404.5,468.9 408.5,473.1 412.5,476.2 416.5,479.7 420.5,482.2 424.5,484.9 428.5,488.6 432.5,491.6 436.5,494.2 440.5,495.4 444.5,497.5 448.5,498.6 452.5,499.3 456.5,499.4 460.5,499.5 464.5,498.0 468.5,496.7 472.5,495.0 476.5,493.6 480.5,492.2 484.5,489.4 488.5,486.9 492.5,484.9 496.5,484.0 500.5,481.6 504.5,479.1 508.5,476.2 512.5,473.1 516.5,469.5 520.5,465.8 524.5,461.7 528.5,457.5 532.5,452.8 536.5,448.3 540.5,444.7 544.5,441.8 548.5,438.1 552.5,435.5 556.5,433.9 560.5,432.5 564.5,431.4 568.5,431.0 572.5,430.9 576.5,430.5 580.5,431.1 584.5,432.1 588.5,433.6 592.5,435.2 596.5,436.0 600.5,436.3 604.5,436.7 608.5,435.3 612.5,432.2 616.5,429.3 620.5,426.9 624.5,425.2 628.5,422.1 632.5,419.2 636.5,415.5 640.5,412.0 644.5,406.2 648.5,395.0 652.5,385.6 656.5,374.1 660.5,360.6 664.5,349.6 668.5,338.7 672.5,323.3 676.5,300.9 680.5,278.9 684.5,260.1 688.5,240.1 692.5,218.3 696.5,197.3 700.5,181.5 704.5,176.6 708.5,170.1 712.5,168.8 716.5,165.3 720.5,161.4 724.5,156.7 728.5,157.8 732.5,165.5 736.5,171.4 740.5,176.0 744.5,184.9 748.5,195.1 752.5,205.1 756.5,212.2 760.5,213.9 764.5,216.3 768.5,217.1 772.5,218.3 776.5,217.9 780.5,221.8 784.5,224.2 788.5,225.6 792.5,224.8 796.5,224.5 800.5,223.4 804.5,221.7 808.5,219.1 812.5,217.6 816.5,217.0 820.5,217.4 824.5,217.3 828.5,217.4 832.5,218.7 836.5,217.5 840.5,217.4 844.5,215.9 848.5,220.4 852.5,224.9 856.5,226.8 860.5,228.2 864.5,230.4 868.5,229.3 872.5,227.4 876.5,224.3 880.5,220.4 884.5,223.1 888.5,227.1 892.5,230.4 896.5,231.9 900.5,234.2 904.5,233.6 908.5,232.4 912.5,234.6 916.5,239.4 920.5,244.0 924.5,249.5 928.5,255.5 932.5,265.1 936.5,276.7 940.5,286.0 944.5,293.0 948.5,302.6 952.5,312.6 956.5,325.1 960.5,336.1 964.5,347.4 968.5,352.2 972.5,356.0 976.5,358.9 980.5,362.9 984.5,366.9 988.5,367.4 992.5,365.9 996.5,363.6 1000.5,361.9 1004.5,359.6 1008.5,358.1 1012.5,353.8 1016.5,349.3 1020.5,343.3 1024.5,341.7 1028.5,339.8 1032.5,339.8 1036.5,340.5 1040.5,340.0 1044.5,340.0 1048.5,340.6 1052.5,341.8 1056.5,342.1 1060.5,342.1 1064.5,340.8 1068.5,341.0 1072.5,342.5 1076.5,344.9 1080.5,345.9 1084.5,349.1 1088.5,350.4 1092.5,350.4 1096.5,350.7 1100.5,351.6 1104.5,353.9 1108.5,356.5 1112.5,360.9 1116.5,363.0 1120.5,366.0 1124.5,370.1 1128.5,374.6 1132.5,378.5 1136.5,381.7 1140.5,384.4 1144.5,387.6 1148.5,390.9 1152.5,395.1 1156.5,400.4 1160.5,403.3 1164.5,403.4 1168.5,403.1 1172.5,404.6 1176.5,407.2 1180.5,409.8 1184.5,412.7 1188.5,415.0 1192.5,418.6 1196.5,422.1 1200.5,426.1 1204.5,430.7 1208.5,434.3 1212.5,435.4 1216.5,437.4 1220.5,440.9 1224.5,444.4 1228.5,448.4 1232.5,451.9 1236.5,454.7 1240.5,457.1 1244.5,461.3 1248.5,465.4 1252.5,468.1 1256.5,469.0 1260.5,470.5 1264.5,473.1 1268.5,475.4" fill="none" stroke="#ff0000" stroke-width="1" shape-rendering="crispEdges" clip-path="url(#mainclip)"/><polyline points="4.5,421.8 8.5,425.0 12.5,432.6 16.5,441.2 20.5,452.6 24.5,456.8 28.5,458.6 32.5,456.6 36.5,451.4 40.5,444.0 44.5,439.6 48.5,437.2 52.5,432.8 56.5,433.4 60.5,433.8 64.5,432.0 68.5,430.6 72.5,432.6 76.5,431.4 80.5,431.8 84.5,433.2 88.5,435.0 92.5,435.4 96.5,438.2 100.5,435.6 104.5,431.0 108.5,426.0 112.5,421.8 116.5,418.0 120.5,417.0 124.5,417.8 128.5,421.0 132.5,428.8 136.5,435.2 140.5,440.6 144.5,447.4 148.5,452.0 152.5,454.2 156.5,457.4 160.5,463.6 164.5,469.0 168.5,474.8 172.5,477.4 176.5,481.0 180.5,484.4 184.5,486.6 188.5,487.6 192.5,488.2 196.5,481.6 200.5,476.8 204.5,470.6 208.5,466.0 212.5,462.8 216.5,464.0 220.5,462.4 224.5,462.6 228.5,459.0 232.5,454.0 236.5,451.2 240.5,448.2 244.5,444.0 248.5,441.8 252.5,442.4 256.5,441.2 260.5,442.2 264.5,443.2 268.5,440.8 272.5,438.0 276.5,434.8 280.5,430.0 284.5,425.2 288.5,425.6 292.5,425.0 296.5,425.0 300.5,426.4 304.5,428.2 308.5,427.8 312.5,427.2 316.5,430.6 320.5,435.6 324.5,436.4 328.5,439.0 332.5,442.4 336.5,442.2 340.5,440.4 344.5,444.6 348.5,447.4 352.5,450.0 356.5,454.6 360.5,457.8 364.5,462.0 368.5,465.8 372.5,466.6 376.5,465.6 380.5,464.8 384.5,462.2 388.5,460.4 392.5,463.2 396.5,467.6 400.5,473.2 404.5,479.0 408.5,489.8 412.5,496.6 416.5,502.6 420.5,507.2 424.5,510.6 428.5,510.0 432.5,508.6 436.5,505.4 440.5,499.0 444.5,495.6 448.5,491.2 452.5,489.2 456.5,487.6 460.5,490.6 464.5,491.2 468.5,491.2 472.5,490.6 476.5,491.2 480.5,490.2 484.5,486.0 488.5,481.0 492.5,477.2 496.5,472.0 500.5,465.8 504.5,462.4 508.5,459.4 512.5,454.4 516.5,450.0 520.5,447.0 524.5,442.4 528.5,438.2 532.5,434.4 536.5,430.8 540.5,427.0 544.5,425.2 548.5,423.0 552.5,423.6 556.5,425.4 560.5,428.2 564.5,430.4 568.5,434.4 572.5,437.0 576.5,437.6 580.5,438.6 584.5,440.2 588.5,441.6 592.5,443.0 596.5,442.4 600.5,439.6 604.5,435.8 608.5,428.4 612.5,417.0 616.5,409.4 620.5,404.0 624.5,402.2 628.5,400.2 632.5,401.2 636.5,400.0 640.5,398.6 644.5,388.4 648.5,367.0 652.5,348.2 656.5,323.8 660.5,292.0 664.5,270.0 668.5,259.4 672.5,235.0 676.5,199.0 680.5,173.4 684.5,149.4 688.5,125.0 692.5,106.0 696.5,108.4 700.5,115.6 704.5,133.2 708.5,152.4 712.5,185.2 716.5,202.4 720.5,213.8 724.5,203.8 728.5,200.4 732.5,189.8 736.5,190.4 740.5,190.2 744.5,204.0 748.5,210.6 752.5,219.2 756.5,230.0 760.5,239.2 764.5,240.2 768.5,246.6 772.5,239.4 776.5,229.6 780.5,226.0 784.5,222.6 788.5,213.6 792.5,208.6 796.5,208.8 800.5,208.4 804.5,203.6 808.5,201.0 812.5,210.0 816.5,218.2 820.5,223.6 824.5,234.2 828.5,234.8 832.5,232.6 836.5,227.4 840.5,222.4 844.5,209.6 848.5,216.8 852.5,226.2 856.5,234.4 860.5,234.0 864.5,241.8 868.5,235.0 872.5,225.2 876.5,216.6 880.5,212.4 884.5,214.4 888.5,226.4 892.5,235.8 896.5,243.6 900.5,248.2 904.5,246.2 908.5,241.2 912.5,246.0 916.5,255.0 920.5,269.2 924.5,279.4 928.5,289.8 932.5,302.2 936.5,317.0 940.5,332.0 944.5,348.2 948.5,367.6 952.5,376.4 956.5,383.6 960.5,386.4 964.5,393.4 968.5,385.0 972.5,376.6 976.5,364.0 980.5,354.4 984.5,344.6 988.5,344.8 992.5,344.8 996.5,345.2 1000.5,345.6 1004.5,347.0 1008.5,350.4 1012.5,349.6 1016.5,346.2 1020.5,341.2 1024.5,335.0 1028.5,325.2 1032.5,324.8 1036.5,329.8 1040.5,335.4 1044.5,340.0 1048.5,347.0 1052.5,350.8 1056.5,350.0 1060.5,353.0 1064.5,352.6 1068.5,350.8 1072.5,348.2 1076.5,349.2 1080.5,345.4 1084.5,348.6 1088.5,351.2 1092.5,352.0 1096.5,351.6 1100.5,356.0 1104.5,360.2 1108.5,367.8 1112.5,379.2 1116.5,387.4 1120.5,393.0 1124.5,396.4 1128.5,398.8 1132.5,398.6 1136.5,397.8 1140.5,400.2 1144.5,400.2 1148.5,397.6 1152.5,398.0 1156.5,408.2 1160.5,413.0 1164.5,412.0 1168.5,413.6 1172.5,414.2 1176.5,412.2 1180.5,414.6 1184.5,424.8 1188.5,431.8 1192.5,437.0 1196.5,442.0 1200.5,445.8 1204.5,448.0 1208.5,452.0 1212.5,455.0 1216.5,455.6 1220.5,453.4 1224.5,452.0 1228.5,453.8 1232.5,458.6 1236.5,463.2 1240.5,470.2 1244.5,479.0 1248.5,484.6 1252.5,487.4 1256.5,485.8 1260.5,485.6 1264.5,485.0 1268.5,483.0" fill="none" stroke="#ffa500" stroke-width="1" shape-rendering="crispEdges" clip-path="url(#mainclip)"/><rect x="4" y="351" width="1592" height="2" fill="#ff0000"/><rect x="4" y="390" width="1592" height="2" fill="#ff0000"/><rect x="4" y="422" width="1592" height="2" fill="#00ff00"/><rect x="4" y="466" width="1592" height="2" fill="#0000ff"/><rect x="4" y="504" width="1592" height="2" fill="#0000ff"/><rect x="4" y="484" width="1592" height="1" fill="#c0c0c0"/><rect x="3" y="502" width="6" height="6" fill="#0000ff"/><rect x="5" y="504" width="2" height="2" fill="#fff"/><rect x="1590" y="502" width="6" height="6" fill="#0000ff"/><rect x="1592" y="504" width="2" height="2" fill="#fff"/><path d="M1272 27 L1281 27 L1276.5 32 Z" fill="#c0c0c0"/><rect x="3" y="26" width="1594" height="1" fill="#000"/><rect x="3" y="26" width="1" height="694" fill="#000"/><rect x="1596" y="26" width="1" height="694" fill="#000"/><rect x="3" y="531" width="1594" height="1" fill="#000"/><rect x="3" y="533" width="1594" height="1" fill="#000"/><rect x="3" y="625" width="1594" height="1" fill="#000"/><rect x="3" y="627" width="1594" height="1" fill="#000"/><rect x="3" y="719" width="1594" height="1" fill="#000"/><rect x="1597" y="33" width="3" height="1" fill="#000"/><text x="1602" y="37" font-size="10" fill="#000" textLength="32.5" lengthAdjust="spacingAndGlyphs" stroke="#000" stroke-width="0.2">1.47340</text><rect x="1597" y="66" width="3" height="1" fill="#000"/><text x="1602" y="70" font-size="10" fill="#000" textLength="32.5" lengthAdjust="spacingAndGlyphs" stroke="#000" stroke-width="0.2">1.46115</text><rect x="1597" y="99" width="3" height="1" fill="#000"/><text x="1602" y="103" font-size="10" fill="#000" textLength="32.5" lengthAdjust="spacingAndGlyphs" stroke="#000" stroke-width="0.2">1.44890</text><rect x="1597" y="132" width="3" height="1" fill="#000"/><text x="1602" y="136" font-size="10" fill="#000" textLength="32.5" lengthAdjust="spacingAndGlyphs" stroke="#000" stroke-width="0.2">1.43700</text><rect x="1597" y="165" width="3" height="1" fill="#000"/><text x="1602" y="169" font-size="10" fill="#000" textLength="32.5" lengthAdjust="spacingAndGlyphs" stroke="#000" stroke-width="0.2">1.42475</text><rect x="1597" y="198" width="3" height="1" fill="#000"/><text x="1602" y="202" font-size="10" fill="#000" textLength="32.5" lengthAdjust="spacingAndGlyphs" stroke="#000" stroke-width="0.2">1.41285</text><rect x="1597" y="231" width="3" height="1" fill="#000"/><text x="1602" y="235" font-size="10" fill="#000" textLength="32.5" lengthAdjust="spacingAndGlyphs" stroke="#000" stroke-width="0.2">1.40060</text><rect x="1597" y="264" width="3" height="1" fill="#000"/><text x="1602" y="268" font-size="10" fill="#000" textLength="32.5" lengthAdjust="spacingAndGlyphs" stroke="#000" stroke-width="0.2">1.38835</text><rect x="1597" y="297" width="3" height="1" fill="#000"/><text x="1602" y="301" font-size="10" fill="#000" textLength="32.5" lengthAdjust="spacingAndGlyphs" stroke="#000" stroke-width="0.2">1.37645</text><rect x="1597" y="330" width="3" height="1" fill="#000"/><text x="1602" y="334" font-size="10" fill="#000" textLength="32.5" lengthAdjust="spacingAndGlyphs" stroke="#000" stroke-width="0.2">1.36420</text><rect x="1597" y="363" width="3" height="1" fill="#000"/><text x="1602" y="367" font-size="10" fill="#000" textLength="32.5" lengthAdjust="spacingAndGlyphs" stroke="#000" stroke-width="0.2">1.35230</text><rect x="1597" y="396" width="3" height="1" fill="#000"/><text x="1602" y="400" font-size="10" fill="#000" textLength="32.5" lengthAdjust="spacingAndGlyphs" stroke="#000" stroke-width="0.2">1.34005</text><rect x="1597" y="429" width="3" height="1" fill="#000"/><text x="1602" y="433" font-size="10" fill="#000" textLength="32.5" lengthAdjust="spacingAndGlyphs" stroke="#000" stroke-width="0.2">1.32780</text><rect x="1597" y="462" width="3" height="1" fill="#000"/><text x="1602" y="466" font-size="10" fill="#000" textLength="32.5" lengthAdjust="spacingAndGlyphs" stroke="#000" stroke-width="0.2">1.31590</text><rect x="1597" y="495" width="3" height="1" fill="#000"/><text x="1602" y="499" font-size="10" fill="#000" textLength="32.5" lengthAdjust="spacingAndGlyphs" stroke="#000" stroke-width="0.2">1.30365</text><rect x="1597" y="528" width="3" height="1" fill="#000"/><text x="1602" y="532" font-size="10" fill="#000" textLength="32.5" lengthAdjust="spacingAndGlyphs" stroke="#000" stroke-width="0.2">1.29175</text><rect x="1598" y="346" width="41" height="11" fill="#ff0000"/><text x="1602" y="355" font-size="10" fill="#fff" textLength="32.5" lengthAdjust="spacingAndGlyphs" stroke="#fff" stroke-width="0.2">1.35606</text><rect x="1598" y="385" width="41" height="11" fill="#ff0000"/><text x="1602" y="394" font-size="10" fill="#fff" textLength="32.5" lengthAdjust="spacingAndGlyphs" stroke="#fff" stroke-width="0.2">1.34206</text><rect x="1598" y="417" width="41" height="11" fill="#00ff00"/><text x="1602" y="426" font-size="10" fill="#fff" textLength="32.5" lengthAdjust="spacingAndGlyphs" stroke="#fff" stroke-width="0.2">1.33011</text><rect x="1598" y="461" width="41" height="11" fill="#0000ff"/><text x="1602" y="470" font-size="10" fill="#fff" textLength="32.5" lengthAdjust="spacingAndGlyphs" stroke="#fff" stroke-width="0.2">1.31405</text><rect x="1598" y="479" width="41" height="11" fill="#000000"/><text x="1602" y="488" font-size="10" fill="#fff" textLength="32.5" lengthAdjust="spacingAndGlyphs" stroke="#fff" stroke-width="0.2">1.30764</text><rect x="1598" y="499" width="41" height="11" fill="#0000ff"/><text x="1602" y="508" font-size="10" fill="#fff" textLength="32.5" lengthAdjust="spacingAndGlyphs" stroke="#fff" stroke-width="0.2">1.30022</text><path d="M7 33 L14 33 L10.5 37 Z" fill="#000"/><text x="19.5" y="38" font-size="10" fill="#000" textLength="65.5" lengthAdjust="spacingAndGlyphs" stroke="#000" stroke-width="0.2">USDCAD,Daily</text><text x="91.5" y="38" font-size="10" fill="#000" textLength="140.5" lengthAdjust="spacingAndGlyphs" stroke="#000" stroke-width="0.2">1.30740 1.30781 1.30668 1.30764</text><line x1="4" y1="561.5" x2="1596" y2="561.5" stroke="#c0c0c0" stroke-width="1" stroke-dasharray="3,3" stroke-dashoffset="-1" shape-rendering="crispEdges"/><line x1="4" y1="597.5" x2="1596" y2="597.5" stroke="#c0c0c0" stroke-width="1" stroke-dasharray="3,3" stroke-dashoffset="-1" shape-rendering="crispEdges"/><polyline points="4.5,584.7 8.5,585.1 12.5,591.4 16.5,590.3 20.5,593.1 24.5,590.3 28.5,584.5 32.5,584.0 36.5,576.0 40.5,575.2 44.5,579.7 48.5,579.3 52.5,574.5 56.5,577.8 60.5,576.5 64.5,576.1 68.5,576.6 72.5,579.8 76.5,575.3 80.5,578.0 84.5,580.1 88.5,581.7 92.5,581.1 96.5,582.8 100.5,571.2 104.5,568.8 108.5,569.4 112.5,571.4 116.5,574.6 120.5,570.7 124.5,572.7 128.5,580.2 132.5,590.7 136.5,589.6 140.5,582.9 144.5,586.7 148.5,587.4 152.5,592.0 156.5,592.9 160.5,593.5 164.5,595.4 168.5,596.5 172.5,595.2 176.5,597.7 180.5,598.0 184.5,598.0 188.5,596.3 192.5,593.0 196.5,576.2 200.5,580.9 204.5,577.7 208.5,580.5 212.5,581.8 216.5,578.8 220.5,576.9 224.5,577.9 228.5,571.9 232.5,570.2 236.5,573.2 240.5,571.0 244.5,569.3 248.5,568.0 252.5,574.4 256.5,572.5 260.5,576.2 264.5,574.1 268.5,565.8 272.5,570.6 276.5,568.3 280.5,567.6 284.5,566.1 288.5,570.0 292.5,571.9 296.5,570.5 300.5,573.8 304.5,572.8 308.5,570.2 312.5,571.7 316.5,582.1 320.5,588.0 324.5,576.6 328.5,578.4 332.5,581.0 336.5,580.5 340.5,582.8 344.5,585.8 348.5,584.2 352.5,586.4 356.5,590.0 360.5,588.7 364.5,593.3 368.5,590.0 372.5,584.2 376.5,584.2 380.5,583.6 384.5,585.1 388.5,584.4 392.5,590.6 396.5,593.7 400.5,595.5 404.5,596.9 408.5,603.4 412.5,598.5 416.5,599.6 420.5,598.2 424.5,596.7 428.5,598.0 432.5,590.2 436.5,587.0 440.5,577.5 444.5,583.2 448.5,582.7 452.5,583.1 456.5,581.5 460.5,583.9 464.5,584.4 468.5,581.9 472.5,580.7 476.5,582.4 480.5,580.4 484.5,571.9 488.5,568.3 492.5,571.0 496.5,569.2 500.5,565.8 504.5,565.4 508.5,563.0 512.5,560.8 516.5,560.4 520.5,560.0 524.5,556.9 528.5,555.6 532.5,554.4 536.5,554.4 540.5,553.7 544.5,554.9 548.5,552.9 552.5,563.5 556.5,568.8 560.5,571.2 564.5,570.1 568.5,572.7 572.5,575.2 576.5,572.5 580.5,576.7 584.5,577.5 588.5,579.2 592.5,581.6 596.5,571.3 600.5,568.0 604.5,565.9 608.5,559.2 612.5,554.4 616.5,558.4 620.5,562.2 624.5,571.4 628.5,565.3 632.5,564.7 636.5,562.8 640.5,565.4 644.5,557.4 648.5,548.0 652.5,552.7 656.5,549.5 660.5,547.2 664.5,553.7 668.5,552.3 672.5,548.3 676.5,544.4 680.5,549.0 684.5,555.0 688.5,553.8 692.5,552.0 696.5,555.3 700.5,563.8 704.5,575.6 708.5,574.5 712.5,579.2 716.5,572.5 720.5,574.3 724.5,571.5 728.5,574.5 732.5,574.6 736.5,573.9 740.5,575.3 744.5,581.0 748.5,579.3 752.5,580.7 756.5,581.3 760.5,581.6 764.5,581.7 768.5,584.0 772.5,574.6 776.5,573.4 780.5,578.9 784.5,579.2 788.5,576.9 792.5,571.5 796.5,574.6 800.5,579.5 804.5,576.5 808.5,576.0 812.5,579.6 816.5,581.7 820.5,584.2 824.5,585.1 828.5,575.9 832.5,577.1 836.5,576.7 840.5,579.8 844.5,574.3 848.5,582.1 852.5,584.6 856.5,583.2 860.5,578.8 864.5,580.1 868.5,575.8 872.5,576.4 876.5,576.0 880.5,575.3 884.5,582.7 888.5,586.5 892.5,584.4 896.5,582.4 900.5,578.5 904.5,579.6 908.5,581.4 912.5,588.0 916.5,589.6 920.5,590.5 924.5,587.1 928.5,588.7 932.5,595.4 936.5,597.9 940.5,598.7 944.5,596.5 948.5,599.4 952.5,598.3 956.5,599.9 960.5,595.7 964.5,597.3 968.5,585.0 972.5,584.2 976.5,582.9 980.5,582.9 984.5,585.2 988.5,584.9 992.5,583.6 996.5,582.5 1000.5,582.5 1004.5,586.6 1008.5,588.5 1012.5,580.9 1016.5,576.6 1020.5,574.8 1024.5,577.8 1028.5,575.5 1032.5,581.0 1036.5,583.4 1040.5,582.0 1044.5,583.5 1048.5,584.2 1052.5,585.5 1056.5,581.2 1060.5,585.0 1064.5,581.4 1068.5,580.2 1072.5,580.5 1076.5,582.1 1080.5,578.5 1084.5,585.8 1088.5,583.3 1092.5,580.6 1096.5,580.3 1100.5,584.7 1104.5,590.6 1108.5,592.8 1112.5,595.1 1116.5,588.5 1120.5,588.7 1124.5,591.6 1128.5,592.7 1132.5,591.8 1136.5,583.9 1140.5,588.4 1144.5,588.4 1148.5,585.2 1152.5,588.8 1156.5,595.1 1160.5,591.3 1164.5,581.9 1168.5,583.2 1172.5,585.1 1176.5,588.8 1180.5,591.3 1184.5,593.3 1188.5,589.3 1192.5,589.0 1196.5,592.3 1200.5,593.5 1204.5,593.9 1208.5,593.1 1212.5,590.4 1216.5,591.2 1220.5,587.5 1224.5,589.3 1228.5,593.1 1232.5,595.3 1236.5,595.8 1240.5,596.8 1244.5,600.1 1248.5,598.9 1252.5,596.1 1256.5,586.1 1260.5,589.4 1264.5,592.8 1268.5,588.8" fill="none" stroke="#1e90ff" stroke-width="1" shape-rendering="crispEdges" clip-path="url(#rsiclip)"/><text x="8.2" y="546" font-size="10" fill="#000" textLength="67.5" lengthAdjust="spacingAndGlyphs" stroke="#000" stroke-width="0.2">RSI(14) 38.6831</text><text x="1600.3" y="545" font-size="10" fill="#000" textLength="14.5" lengthAdjust="spacingAndGlyphs" stroke="#000" stroke-width="0.2">100</text><text x="1600.3" y="565" font-size="10" fill="#000" textLength="9.7" lengthAdjust="spacingAndGlyphs" stroke="#000" stroke-width="0.2">70</text><text x="1600.3" y="601" font-size="10" fill="#000" textLength="9.7" lengthAdjust="spacingAndGlyphs" stroke="#000" stroke-width="0.2">30</text><text x="1600.3" y="622" font-size="10" fill="#000" textLength="4.9" lengthAdjust="spacingAndGlyphs" stroke="#000" stroke-width="0.2">0</text><rect x="1597" y="535" width="2" height="1" fill="#000"/><g clip-path="url(#macdclip)" shape-rendering="crispEdges"><rect x="4" y="684" width="1" height="4" fill="#c0c0c0"/><rect x="8" y="685" width="1" height="3" fill="#c0c0c0"/><rect x="20" y="687" width="1" height="2" fill="#c0c0c0"/><rect x="24" y="687" width="1" height="4" fill="#c0c0c0"/><rect x="28" y="687" width="1" height="4" fill="#c0c0c0"/><rect x="32" y="687" width="1" height="4" fill="#c0c0c0"/><rect x="36" y="687" width="1" height="3" fill="#c0c0c0"/><rect x="40" y="687" width="1" height="2" fill="#c0c0c0"/><rect x="44" y="687" width="1" height="2" fill="#c0c0c0"/><rect x="48" y="687" width="1" height="2" fill="#c0c0c0"/><rect x="64" y="686" width="1" height="2" fill="#c0c0c0"/><rect x="68" y="686" width="1" height="2" fill="#c0c0c0"/><rect x="72" y="686" width="1" height="2" fill="#c0c0c0"/><rect x="76" y="686" width="1" height="2" fill="#c0c0c0"/><rect x="80" y="686" width="1" height="2" fill="#c0c0c0"/><rect x="84" y="686" width="1" height="2" fill="#c0c0c0"/><rect x="88" y="686" width="1" height="2" fill="#c0c0c0"/><rect x="100" y="686" width="1" height="2" fill="#c0c0c0"/><rect x="104" y="685" width="1" height="3" fill="#c0c0c0"/><rect x="108" y="684" width="1" height="4" fill="#c0c0c0"/><rect x="112" y="684" width="1" height="4" fill="#c0c0c0"/><rect x="116" y="684" width="1" height="4" fill="#c0c0c0"/><rect x="120" y="683" width="1" height="5" fill="#c0c0c0"/><rect x="124" y="683" width="1" height="5" fill="#c0c0c0"/><rect x="128" y="684" width="1" height="4" fill="#c0c0c0"/><rect x="132" y="686" width="1" height="2" fill="#c0c0c0"/><rect x="140" y="687" width="1" height="2" fill="#c0c0c0"/><rect x="144" y="687" width="1" height="2" fill="#c0c0c0"/><rect x="148" y="687" width="1" height="3" fill="#c0c0c0"/><rect x="152" y="687" width="1" height="4" fill="#c0c0c0"/><rect x="156" y="687" width="1" height="5" fill="#c0c0c0"/><rect x="160" y="687" width="1" height="6" fill="#c0c0c0"/><rect x="164" y="687" width="1" height="7" fill="#c0c0c0"/><rect x="168" y="687" width="1" height="8" fill="#c0c0c0"/><rect x="172" y="687" width="1" height="9" fill="#c0c0c0"/><rect x="176" y="687" width="1" height="9" fill="#c0c0c0"/><rect x="180" y="687" width="1" height="10" fill="#c0c0c0"/><rect x="184" y="687" width="1" height="10" fill="#c0c0c0"/><rect x="188" y="687" width="1" height="10" fill="#c0c0c0"/><rect x="192" y="687" width="1" height="10" fill="#c0c0c0"/><rect x="196" y="687" width="1" height="8" fill="#c0c0c0"/><rect x="200" y="687" width="1" height="7" fill="#c0c0c0"/><rect x="204" y="687" width="1" height="6" fill="#c0c0c0"/><rect x="208" y="687" width="1" height="5" fill="#c0c0c0"/><rect x="212" y="687" width="1" height="5" fill="#c0c0c0"/><rect x="216" y="687" width="1" height="4" fill="#c0c0c0"/><rect x="220" y="687" width="1" height="3" fill="#c0c0c0"/><rect x="224" y="687" width="1" height="3" fill="#c0c0c0"/><rect x="228" y="687" width="1" height="2" fill="#c0c0c0"/><rect x="232" y="686" width="1" height="2" fill="#c0c0c0"/><rect x="236" y="686" width="1" height="2" fill="#c0c0c0"/><rect x="240" y="685" width="1" height="3" fill="#c0c0c0"/><rect x="244" y="684" width="1" height="4" fill="#c0c0c0"/><rect x="248" y="684" width="1" height="4" fill="#c0c0c0"/><rect x="252" y="684" width="1" height="4" fill="#c0c0c0"/><rect x="256" y="683" width="1" height="5" fill="#c0c0c0"/><rect x="260" y="684" width="1" height="4" fill="#c0c0c0"/><rect x="264" y="684" width="1" height="4" fill="#c0c0c0"/><rect x="268" y="683" width="1" height="5" fill="#c0c0c0"/><rect x="272" y="682" width="1" height="6" fill="#c0c0c0"/><rect x="276" y="682" width="1" height="6" fill="#c0c0c0"/><rect x="280" y="681" width="1" height="7" fill="#c0c0c0"/><rect x="284" y="681" width="1" height="7" fill="#c0c0c0"/><rect x="288" y="681" width="1" height="7" fill="#c0c0c0"/><rect x="292" y="681" width="1" height="7" fill="#c0c0c0"/><rect x="296" y="681" width="1" height="7" fill="#c0c0c0"/><rect x="300" y="681" width="1" height="7" fill="#c0c0c0"/><rect x="304" y="682" width="1" height="6" fill="#c0c0c0"/><rect x="308" y="682" width="1" height="6" fill="#c0c0c0"/><rect x="312" y="682" width="1" height="6" fill="#c0c0c0"/><rect x="316" y="683" width="1" height="5" fill="#c0c0c0"/><rect x="320" y="684" width="1" height="4" fill="#c0c0c0"/><rect x="324" y="684" width="1" height="4" fill="#c0c0c0"/><rect x="328" y="685" width="1" height="3" fill="#c0c0c0"/><rect x="332" y="685" width="1" height="3" fill="#c0c0c0"/><rect x="336" y="686" width="1" height="2" fill="#c0c0c0"/><rect x="340" y="686" width="1" height="2" fill="#c0c0c0"/><rect x="352" y="687" width="1" height="2" fill="#c0c0c0"/><rect x="356" y="687" width="1" height="3" fill="#c0c0c0"/><rect x="360" y="687" width="1" height="4" fill="#c0c0c0"/><rect x="364" y="687" width="1" height="5" fill="#c0c0c0"/><rect x="368" y="687" width="1" height="5" fill="#c0c0c0"/><rect x="372" y="687" width="1" height="5" fill="#c0c0c0"/><rect x="376" y="687" width="1" height="5" fill="#c0c0c0"/><rect x="380" y="687" width="1" height="5" fill="#c0c0c0"/><rect x="384" y="687" width="1" height="4" fill="#c0c0c0"/><rect x="388" y="687" width="1" height="4" fill="#c0c0c0"/><rect x="392" y="687" width="1" height="5" fill="#c0c0c0"/><rect x="396" y="687" width="1" height="6" fill="#c0c0c0"/><rect x="400" y="687" width="1" height="6" fill="#c0c0c0"/><rect x="404" y="687" width="1" height="7" fill="#c0c0c0"/><rect x="408" y="687" width="1" height="9" fill="#c0c0c0"/><rect x="412" y="687" width="1" height="10" fill="#c0c0c0"/><rect x="416" y="687" width="1" height="11" fill="#c0c0c0"/><rect x="420" y="687" width="1" height="11" fill="#c0c0c0"/><rect x="424" y="687" width="1" height="11" fill="#c0c0c0"/><rect x="428" y="687" width="1" height="11" fill="#c0c0c0"/><rect x="432" y="687" width="1" height="11" fill="#c0c0c0"/><rect x="436" y="687" width="1" height="10" fill="#c0c0c0"/><rect x="440" y="687" width="1" height="8" fill="#c0c0c0"/><rect x="444" y="687" width="1" height="8" fill="#c0c0c0"/><rect x="448" y="687" width="1" height="7" fill="#c0c0c0"/><rect x="452" y="687" width="1" height="6" fill="#c0c0c0"/><rect x="456" y="687" width="1" height="6" fill="#c0c0c0"/><rect x="460" y="687" width="1" height="5" fill="#c0c0c0"/><rect x="464" y="687" width="1" height="5" fill="#c0c0c0"/><rect x="468" y="687" width="1" height="5" fill="#c0c0c0"/><rect x="472" y="687" width="1" height="4" fill="#c0c0c0"/><rect x="476" y="687" width="1" height="4" fill="#c0c0c0"/><rect x="480" y="687" width="1" height="3" fill="#c0c0c0"/><rect x="484" y="687" width="1" height="2" fill="#c0c0c0"/><rect x="492" y="686" width="1" height="2" fill="#c0c0c0"/><rect x="496" y="685" width="1" height="3" fill="#c0c0c0"/><rect x="500" y="684" width="1" height="4" fill="#c0c0c0"/><rect x="504" y="683" width="1" height="5" fill="#c0c0c0"/><rect x="508" y="682" width="1" height="6" fill="#c0c0c0"/><rect x="512" y="681" width="1" height="7" fill="#c0c0c0"/><rect x="516" y="681" width="1" height="7" fill="#c0c0c0"/><rect x="520" y="680" width="1" height="8" fill="#c0c0c0"/><rect x="524" y="679" width="1" height="9" fill="#c0c0c0"/><rect x="528" y="678" width="1" height="10" fill="#c0c0c0"/><rect x="532" y="678" width="1" height="10" fill="#c0c0c0"/><rect x="536" y="677" width="1" height="11" fill="#c0c0c0"/><rect x="540" y="677" width="1" height="11" fill="#c0c0c0"/><rect x="544" y="677" width="1" height="11" fill="#c0c0c0"/><rect x="548" y="676" width="1" height="12" fill="#c0c0c0"/><rect x="552" y="677" width="1" height="11" fill="#c0c0c0"/><rect x="556" y="677" width="1" height="11" fill="#c0c0c0"/><rect x="560" y="678" width="1" height="10" fill="#c0c0c0"/><rect x="564" y="679" width="1" height="9" fill="#c0c0c0"/><rect x="568" y="680" width="1" height="8" fill="#c0c0c0"/><rect x="572" y="681" width="1" height="7" fill="#c0c0c0"/><rect x="576" y="681" width="1" height="7" fill="#c0c0c0"/><rect x="580" y="682" width="1" height="6" fill="#c0c0c0"/><rect x="584" y="682" width="1" height="6" fill="#c0c0c0"/><rect x="588" y="683" width="1" height="5" fill="#c0c0c0"/><rect x="592" y="684" width="1" height="4" fill="#c0c0c0"/><rect x="596" y="684" width="1" height="4" fill="#c0c0c0"/><rect x="600" y="683" width="1" height="5" fill="#c0c0c0"/><rect x="604" y="683" width="1" height="5" fill="#c0c0c0"/><rect x="608" y="682" width="1" height="6" fill="#c0c0c0"/><rect x="612" y="680" width="1" height="8" fill="#c0c0c0"/><rect x="616" y="679" width="1" height="9" fill="#c0c0c0"/><rect x="620" y="678" width="1" height="10" fill="#c0c0c0"/><rect x="624" y="679" width="1" height="9" fill="#c0c0c0"/><rect x="628" y="679" width="1" height="9" fill="#c0c0c0"/><rect x="632" y="678" width="1" height="10" fill="#c0c0c0"/><rect x="636" y="678" width="1" height="10" fill="#c0c0c0"/><rect x="640" y="678" width="1" height="10" fill="#c0c0c0"/><rect x="644" y="676" width="1" height="12" fill="#c0c0c0"/><rect x="648" y="671" width="1" height="17" fill="#c0c0c0"/><rect x="652" y="668" width="1" height="20" fill="#c0c0c0"/><rect x="656" y="664" width="1" height="24" fill="#c0c0c0"/><rect x="660" y="660" width="1" height="28" fill="#c0c0c0"/><rect x="664" y="658" width="1" height="30" fill="#c0c0c0"/><rect x="668" y="655" width="1" height="33" fill="#c0c0c0"/><rect x="672" y="651" width="1" height="37" fill="#c0c0c0"/><rect x="676" y="643" width="1" height="45" fill="#c0c0c0"/><rect x="680" y="638" width="1" height="50" fill="#c0c0c0"/><rect x="684" y="637" width="1" height="51" fill="#c0c0c0"/><rect x="688" y="635" width="1" height="53" fill="#c0c0c0"/><rect x="692" y="633" width="1" height="55" fill="#c0c0c0"/><rect x="696" y="632" width="1" height="56" fill="#c0c0c0"/><rect x="700" y="635" width="1" height="53" fill="#c0c0c0"/><rect x="704" y="641" width="1" height="47" fill="#c0c0c0"/><rect x="708" y="647" width="1" height="41" fill="#c0c0c0"/><rect x="712" y="653" width="1" height="35" fill="#c0c0c0"/><rect x="716" y="655" width="1" height="33" fill="#c0c0c0"/><rect x="720" y="658" width="1" height="30" fill="#c0c0c0"/><rect x="724" y="659" width="1" height="29" fill="#c0c0c0"/><rect x="728" y="661" width="1" height="27" fill="#c0c0c0"/><rect x="732" y="663" width="1" height="25" fill="#c0c0c0"/><rect x="736" y="665" width="1" height="23" fill="#c0c0c0"/><rect x="740" y="667" width="1" height="21" fill="#c0c0c0"/><rect x="744" y="671" width="1" height="17" fill="#c0c0c0"/><rect x="748" y="674" width="1" height="14" fill="#c0c0c0"/><rect x="752" y="676" width="1" height="12" fill="#c0c0c0"/><rect x="756" y="679" width="1" height="9" fill="#c0c0c0"/><rect x="760" y="681" width="1" height="7" fill="#c0c0c0"/><rect x="764" y="683" width="1" height="5" fill="#c0c0c0"/><rect x="768" y="685" width="1" height="3" fill="#c0c0c0"/><rect x="772" y="684" width="1" height="4" fill="#c0c0c0"/><rect x="776" y="682" width="1" height="6" fill="#c0c0c0"/><rect x="780" y="683" width="1" height="5" fill="#c0c0c0"/><rect x="784" y="684" width="1" height="4" fill="#c0c0c0"/><rect x="788" y="683" width="1" height="5" fill="#c0c0c0"/><rect x="792" y="681" width="1" height="7" fill="#c0c0c0"/><rect x="796" y="681" width="1" height="7" fill="#c0c0c0"/><rect x="800" y="682" width="1" height="6" fill="#c0c0c0"/><rect x="804" y="682" width="1" height="6" fill="#c0c0c0"/><rect x="808" y="682" width="1" height="6" fill="#c0c0c0"/><rect x="812" y="683" width="1" height="5" fill="#c0c0c0"/><rect x="816" y="684" width="1" height="4" fill="#c0c0c0"/><rect x="820" y="686" width="1" height="2" fill="#c0c0c0"/><rect x="824" y="687" width="1" height="2" fill="#c0c0c0"/><rect x="832" y="686" width="1" height="2" fill="#c0c0c0"/><rect x="836" y="686" width="1" height="2" fill="#c0c0c0"/><rect x="840" y="686" width="1" height="2" fill="#c0c0c0"/><rect x="844" y="685" width="1" height="3" fill="#c0c0c0"/><rect x="848" y="686" width="1" height="2" fill="#c0c0c0"/><rect x="852" y="687" width="1" height="2" fill="#c0c0c0"/><rect x="856" y="687" width="1" height="3" fill="#c0c0c0"/><rect x="860" y="687" width="1" height="3" fill="#c0c0c0"/><rect x="864" y="687" width="1" height="3" fill="#c0c0c0"/><rect x="872" y="686" width="1" height="2" fill="#c0c0c0"/><rect x="876" y="686" width="1" height="2" fill="#c0c0c0"/><rect x="880" y="685" width="1" height="3" fill="#c0c0c0"/><rect x="884" y="686" width="1" height="2" fill="#c0c0c0"/><rect x="888" y="687" width="1" height="2" fill="#c0c0c0"/><rect x="892" y="687" width="1" height="4" fill="#c0c0c0"/><rect x="896" y="687" width="1" height="4" fill="#c0c0c0"/><rect x="900" y="687" width="1" height="3" fill="#c0c0c0"/><rect x="904" y="687" width="1" height="3" fill="#c0c0c0"/><rect x="908" y="687" width="1" height="3" fill="#c0c0c0"/><rect x="912" y="687" width="1" height="6" fill="#c0c0c0"/><rect x="916" y="687" width="1" height="8" fill="#c0c0c0"/><rect x="920" y="687" width="1" height="10" fill="#c0c0c0"/><rect x="924" y="687" width="1" height="10" fill="#c0c0c0"/><rect x="928" y="687" width="1" height="11" fill="#c0c0c0"/><rect x="932" y="687" width="1" height="14" fill="#c0c0c0"/><rect x="936" y="687" width="1" height="18" fill="#c0c0c0"/><rect x="940" y="687" width="1" height="21" fill="#c0c0c0"/><rect x="944" y="687" width="1" height="22" fill="#c0c0c0"/><rect x="948" y="687" width="1" height="25" fill="#c0c0c0"/><rect x="952" y="687" width="1" height="26" fill="#c0c0c0"/><rect x="956" y="687" width="1" height="28" fill="#c0c0c0"/><rect x="960" y="687" width="1" height="28" fill="#c0c0c0"/><rect x="964" y="687" width="1" height="28" fill="#c0c0c0"/><rect x="968" y="687" width="1" height="26" fill="#c0c0c0"/><rect x="972" y="687" width="1" height="23" fill="#c0c0c0"/><rect x="976" y="687" width="1" height="21" fill="#c0c0c0"/><rect x="980" y="687" width="1" height="18" fill="#c0c0c0"/><rect x="984" y="687" width="1" height="17" fill="#c0c0c0"/><rect x="988" y="687" width="1" height="16" fill="#c0c0c0"/><rect x="992" y="687" width="1" height="14" fill="#c0c0c0"/><rect x="996" y="687" width="1" height="13" fill="#c0c0c0"/><rect x="1000" y="687" width="1" height="12" fill="#c0c0c0"/><rect x="1004" y="687" width="1" height="11" fill="#c0c0c0"/><rect x="1008" y="687" width="1" height="11" fill="#c0c0c0"/><rect x="1012" y="687" width="1" height="10" fill="#c0c0c0"/><rect x="1016" y="687" width="1" height="8" fill="#c0c0c0"/><rect x="1020" y="687" width="1" height="6" fill="#c0c0c0"/><rect x="1024" y="687" width="1" height="5" fill="#c0c0c0"/><rect x="1028" y="687" width="1" height="3" fill="#c0c0c0"/><rect x="1032" y="687" width="1" height="3" fill="#c0c0c0"/><rect x="1036" y="687" width="1" height="4" fill="#c0c0c0"/><rect x="1040" y="687" width="1" height="4" fill="#c0c0c0"/><rect x="1044" y="687" width="1" height="4" fill="#c0c0c0"/><rect x="1048" y="687" width="1" height="4" fill="#c0c0c0"/><rect x="1052" y="687" width="1" height="5" fill="#c0c0c0"/><rect x="1056" y="687" width="1" height="5" fill="#c0c0c0"/><rect x="1060" y="687" width="1" height="5" fill="#c0c0c0"/><rect x="1064" y="687" width="1" height="5" fill="#c0c0c0"/><rect x="1068" y="687" width="1" height="4" fill="#c0c0c0"/><rect x="1072" y="687" width="1" height="4" fill="#c0c0c0"/><rect x="1076" y="687" width="1" height="4" fill="#c0c0c0"/><rect x="1080" y="687" width="1" height="3" fill="#c0c0c0"/><rect x="1084" y="687" width="1" height="4" fill="#c0c0c0"/><rect x="1088" y="687" width="1" height="4" fill="#c0c0c0"/><rect x="1092" y="687" width="1" height="4" fill="#c0c0c0"/><rect x="1096" y="687" width="1" height="3" fill="#c0c0c0"/><rect x="1100" y="687" width="1" height="4" fill="#c0c0c0"/><rect x="1104" y="687" width="1" height="5" fill="#c0c0c0"/><rect x="1108" y="687" width="1" height="7" fill="#c0c0c0"/><rect x="1112" y="687" width="1" height="9" fill="#c0c0c0"/><rect x="1116" y="687" width="1" height="9" fill="#c0c0c0"/><rect x="1120" y="687" width="1" height="9" fill="#c0c0c0"/><rect x="1124" y="687" width="1" height="10" fill="#c0c0c0"/><rect x="1128" y="687" width="1" height="11" fill="#c0c0c0"/><rect x="1132" y="687" width="1" height="11" fill="#c0c0c0"/><rect x="1136" y="687" width="1" height="10" fill="#c0c0c0"/><rect x="1140" y="687" width="1" height="10" fill="#c0c0c0"/><rect x="1144" y="687" width="1" height="10" fill="#c0c0c0"/><rect x="1148" y="687" width="1" height="10" fill="#c0c0c0"/><rect x="1152" y="687" width="1" height="10" fill="#c0c0c0"/><rect x="1156" y="687" width="1" height="11" fill="#c0c0c0"/><rect x="1160" y="687" width="1" height="12" fill="#c0c0c0"/><rect x="1164" y="687" width="1" height="11" fill="#c0c0c0"/><rect x="1168" y="687" width="1" height="10" fill="#c0c0c0"/><rect x="1172" y="687" width="1" height="10" fill="#c0c0c0"/><rect x="1176" y="687" width="1" height="10" fill="#c0c0c0"/><rect x="1180" y="687" width="1" height="11" fill="#c0c0c0"/><rect x="1184" y="687" width="1" height="12" fill="#c0c0c0"/><rect x="1188" y="687" width="1" height="12" fill="#c0c0c0"/><rect x="1192" y="687" width="1" height="12" fill="#c0c0c0"/><rect x="1196" y="687" width="1" height="13" fill="#c0c0c0"/><rect x="1200" y="687" width="1" height="13" fill="#c0c0c0"/><rect x="1204" y="687" width="1" height="14" fill="#c0c0c0"/><rect x="1208" y="687" width="1" height="14" fill="#c0c0c0"/><rect x="1212" y="687" width="1" height="13" fill="#c0c0c0"/><rect x="1216" y="687" width="1" height="13" fill="#c0c0c0"/><rect x="1220" y="687" width="1" height="12" fill="#c0c0c0"/><rect x="1224" y="687" width="1" height="12" fill="#c0c0c0"/><rect x="1228" y="687" width="1" height="12" fill="#c0c0c0"/><rect x="1232" y="687" width="1" height="13" fill="#c0c0c0"/><rect x="1236" y="687" width="1" height="13" fill="#c0c0c0"/><rect x="1240" y="687" width="1" height="13" fill="#c0c0c0"/><rect x="1244" y="687" width="1" height="14" fill="#c0c0c0"/><rect x="1248" y="687" width="1" height="15" fill="#c0c0c0"/><rect x="1252" y="687" width="1" height="15" fill="#c0c0c0"/><rect x="1256" y="687" width="1" height="13" fill="#c0c0c0"/><rect x="1260" y="687" width="1" height="13" fill="#c0c0c0"/><rect x="1264" y="687" width="1" height="13" fill="#c0c0c0"/><rect x="1268" y="687" width="1" height="12" fill="#c0c0c0"/></g><polyline points="4.5,682.5 8.5,682.8 12.5,683.3 16.5,683.7 20.5,684.6 24.5,685.4 28.5,686.2 32.5,687.1 36.5,688.0 40.5,688.6 44.5,689.1 48.5,689.2 52.5,689.2 56.5,689.0 60.5,688.5 64.5,688.0 68.5,687.5 72.5,687.2 76.5,686.8 80.5,686.6 84.5,686.3 88.5,686.2 92.5,686.2 96.5,686.2 100.5,686.2 104.5,686.1 108.5,685.9 112.5,685.6 116.5,685.4 120.5,685.1 124.5,684.8 128.5,684.5 132.5,684.4 136.5,684.5 140.5,684.8 144.5,685.3 148.5,685.9 152.5,686.6 156.5,687.5 160.5,688.5 164.5,689.5 168.5,690.4 172.5,691.2 176.5,692.1 180.5,692.9 184.5,693.7 188.5,694.4 192.5,694.8 196.5,695.0 200.5,695.0 204.5,694.8 208.5,694.4 212.5,693.9 216.5,693.2 220.5,692.5 224.5,691.6 228.5,690.7 232.5,689.9 236.5,689.1 240.5,688.3 244.5,687.6 248.5,686.8 252.5,686.1 256.5,685.4 260.5,684.9 264.5,684.4 268.5,684.0 272.5,683.6 276.5,683.2 280.5,682.9 284.5,682.6 288.5,682.2 292.5,682.0 296.5,681.7 300.5,681.4 304.5,681.3 308.5,681.2 312.5,681.3 316.5,681.4 320.5,681.8 324.5,682.2 328.5,682.6 332.5,683.1 336.5,683.6 340.5,684.1 344.5,684.7 348.5,685.3 352.5,685.9 356.5,686.4 360.5,687.0 364.5,687.6 368.5,688.3 372.5,688.9 376.5,689.4 380.5,689.8 384.5,690.1 388.5,690.4 392.5,690.6 396.5,690.8 400.5,691.0 404.5,691.2 408.5,691.7 412.5,692.2 416.5,692.9 420.5,693.6 424.5,694.4 428.5,695.1 432.5,695.7 436.5,696.1 440.5,696.2 444.5,696.1 448.5,695.7 452.5,695.3 456.5,694.7 460.5,694.0 464.5,693.3 468.5,692.6 472.5,692.0 476.5,691.5 480.5,691.0 484.5,690.5 488.5,689.9 492.5,689.3 496.5,688.6 500.5,687.8 504.5,687.0 508.5,686.2 512.5,685.2 516.5,684.3 520.5,683.3 524.5,682.5 528.5,681.6 532.5,680.8 536.5,680.0 540.5,679.3 544.5,678.6 548.5,678.1 552.5,677.6 556.5,677.4 560.5,677.3 564.5,677.3 568.5,677.6 572.5,677.9 576.5,678.4 580.5,679.0 584.5,679.6 588.5,680.3 592.5,681.0 596.5,681.6 600.5,682.1 604.5,682.5 608.5,682.6 612.5,682.5 616.5,682.2 620.5,681.7 624.5,681.3 628.5,680.7 632.5,680.1 636.5,679.5 640.5,678.9 644.5,678.3 648.5,677.3 652.5,676.1 656.5,674.5 660.5,672.4 664.5,670.1 668.5,667.5 672.5,664.6 676.5,660.7 680.5,656.5 684.5,652.7 688.5,649.0 692.5,645.5 696.5,642.5 700.5,639.9 704.5,638.4 708.5,637.9 712.5,639.0 716.5,640.9 720.5,643.2 724.5,645.9 728.5,649.1 732.5,652.5 736.5,655.9 740.5,658.7 744.5,661.5 748.5,663.8 752.5,666.1 756.5,668.4 760.5,670.9 764.5,673.3 768.5,675.7 772.5,677.7 776.5,679.4 780.5,680.8 784.5,681.9 788.5,682.7 792.5,683.0 796.5,682.9 800.5,682.8 804.5,682.5 808.5,682.3 812.5,682.3 816.5,682.4 820.5,682.7 824.5,683.2 828.5,683.8 832.5,684.4 836.5,684.8 840.5,685.2 844.5,685.6 848.5,685.9 852.5,686.4 856.5,686.7 860.5,686.8 864.5,687.0 868.5,687.1 872.5,687.2 876.5,687.2 880.5,687.2 884.5,687.2 888.5,687.2 892.5,687.3 896.5,687.5 900.5,687.6 904.5,687.8 908.5,688.1 912.5,688.8 916.5,689.8 920.5,690.8 924.5,691.7 928.5,692.5 932.5,693.7 936.5,695.3 940.5,697.2 944.5,699.3 948.5,701.5 952.5,703.5 956.5,705.5 960.5,707.5 964.5,709.4 968.5,710.6 972.5,711.2 976.5,711.2 980.5,710.8 984.5,709.9 988.5,708.8 992.5,707.3 996.5,705.6 1000.5,703.8 1004.5,702.2 1008.5,700.9 1012.5,699.7 1016.5,698.5 1020.5,697.3 1024.5,696.1 1028.5,694.8 1032.5,693.8 1036.5,692.9 1040.5,692.1 1044.5,691.2 1048.5,690.6 1052.5,690.3 1056.5,690.1 1060.5,690.2 1064.5,690.3 1068.5,690.4 1072.5,690.4 1076.5,690.4 1080.5,690.3 1084.5,690.3 1088.5,690.2 1092.5,690.1 1096.5,689.9 1100.5,689.8 1104.5,689.9 1108.5,690.3 1112.5,690.8 1116.5,691.5 1120.5,692.1 1124.5,692.7 1128.5,693.5 1132.5,694.4 1136.5,695.1 1140.5,695.7 1144.5,696.1 1148.5,696.2 1152.5,696.3 1156.5,696.5 1160.5,696.7 1164.5,696.6 1168.5,696.5 1172.5,696.4 1176.5,696.4 1180.5,696.4 1184.5,696.7 1188.5,696.9 1192.5,697.0 1196.5,697.1 1200.5,697.4 1204.5,697.8 1208.5,698.3 1212.5,698.6 1216.5,698.9 1220.5,698.9 1224.5,698.9 1228.5,698.9 1232.5,698.9 1236.5,698.9 1240.5,698.9 1244.5,698.9 1248.5,699.1 1252.5,699.3 1256.5,699.4 1260.5,699.5 1264.5,699.6 1268.5,699.6" fill="none" stroke="#ff0000" stroke-width="1" stroke-dasharray="3,3" shape-rendering="crispEdges" clip-path="url(#macdclip)"/><text x="8.3" y="640" font-size="10" fill="#000" textLength="153.5" lengthAdjust="spacingAndGlyphs" stroke="#000" stroke-width="0.2">MACD(12,26,9) -0.006825 -0.007436</text><text x="1600.3" y="638" font-size="10" fill="#000" textLength="39.0" lengthAdjust="spacingAndGlyphs" stroke="#000" stroke-width="0.2">0.032972</text><text x="1600.3" y="691" font-size="10" fill="#000" textLength="19.0" lengthAdjust="spacingAndGlyphs" stroke="#000" stroke-width="0.2">0.00</text><text x="1600.3" y="717" font-size="10" fill="#000" textLength="42.0" lengthAdjust="spacingAndGlyphs" stroke="#000" stroke-width="0.2">-0.018154</text><rect x="1597" y="629" width="2" height="1" fill="#000"/><rect x="1597" y="687" width="3" height="1" fill="#000"/><rect x="1597" y="719" width="2" height="1" fill="#000"/><rect x="4" y="720" width="1" height="3" fill="#000"/><text x="3" y="732" font-size="9.8" fill="#000" textLength="47.0" lengthAdjust="spacingAndGlyphs" stroke="#000" stroke-width="0.12">4 Sep 2019</text><rect x="68" y="720" width="1" height="3" fill="#000"/><text x="67" y="732" font-size="9.8" fill="#000" textLength="52.2" lengthAdjust="spacingAndGlyphs" stroke="#000" stroke-width="0.12">23 Sep 2019</text><rect x="132" y="720" width="1" height="3" fill="#000"/><text x="131" y="732" font-size="9.8" fill="#000" textLength="49.4" lengthAdjust="spacingAndGlyphs" stroke="#000" stroke-width="0.12">11 Oct 2019</text><rect x="196" y="720" width="1" height="3" fill="#000"/><text x="195" y="732" font-size="9.8" fill="#000" textLength="50.1" lengthAdjust="spacingAndGlyphs" stroke="#000" stroke-width="0.12">30 Oct 2019</text><rect x="260" y="720" width="1" height="3" fill="#000"/><text x="259" y="732" font-size="9.8" fill="#000" textLength="52.1" lengthAdjust="spacingAndGlyphs" stroke="#000" stroke-width="0.12">18 Nov 2019</text><rect x="324" y="720" width="1" height="3" fill="#000"/><text x="323" y="732" font-size="9.8" fill="#000" textLength="47.0" lengthAdjust="spacingAndGlyphs" stroke="#000" stroke-width="0.12">6 Dec 2019</text><rect x="388" y="720" width="1" height="3" fill="#000"/><text x="387" y="732" font-size="9.8" fill="#000" textLength="52.1" lengthAdjust="spacingAndGlyphs" stroke="#000" stroke-width="0.12">25 Dec 2019</text><rect x="452" y="720" width="1" height="3" fill="#000"/><text x="451" y="732" font-size="9.8" fill="#000" textLength="50.6" lengthAdjust="spacingAndGlyphs" stroke="#000" stroke-width="0.12">13 Jan 2020</text><rect x="516" y="720" width="1" height="3" fill="#000"/><text x="515" y="732" font-size="9.8" fill="#000" textLength="50.6" lengthAdjust="spacingAndGlyphs" stroke="#000" stroke-width="0.12">31 Jan 2020</text><rect x="580" y="720" width="1" height="3" fill="#000"/><text x="579" y="732" font-size="9.8" fill="#000" textLength="51.6" lengthAdjust="spacingAndGlyphs" stroke="#000" stroke-width="0.12">19 Feb 2020</text><rect x="644" y="720" width="1" height="3" fill="#000"/><text x="643" y="732" font-size="9.8" fill="#000" textLength="46.5" lengthAdjust="spacingAndGlyphs" stroke="#000" stroke-width="0.12">9 Mar 2020</text><rect x="708" y="720" width="1" height="3" fill="#000"/><text x="707" y="732" font-size="9.8" fill="#000" textLength="51.6" lengthAdjust="spacingAndGlyphs" stroke="#000" stroke-width="0.12">27 Mar 2020</text><rect x="772" y="720" width="1" height="3" fill="#000"/><text x="771" y="732" font-size="9.8" fill="#000" textLength="49.6" lengthAdjust="spacingAndGlyphs" stroke="#000" stroke-width="0.12">15 Apr 2020</text><rect x="836" y="720" width="1" height="3" fill="#000"/><text x="835" y="732" font-size="9.8" fill="#000" textLength="48.0" lengthAdjust="spacingAndGlyphs" stroke="#000" stroke-width="0.12">4 May 2020</text><rect x="900" y="720" width="1" height="3" fill="#000"/><text x="899" y="732" font-size="9.8" fill="#000" textLength="53.2" lengthAdjust="spacingAndGlyphs" stroke="#000" stroke-width="0.12">22 May 2020</text><rect x="964" y="720" width="1" height="3" fill="#000"/><text x="963" y="732" font-size="9.8" fill="#000" textLength="50.6" lengthAdjust="spacingAndGlyphs" stroke="#000" stroke-width="0.12">10 Jun 2020</text><rect x="1028" y="720" width="1" height="3" fill="#000"/><text x="1027" y="732" font-size="9.8" fill="#000" textLength="50.6" lengthAdjust="spacingAndGlyphs" stroke="#000" stroke-width="0.12">29 Jun 2020</text><rect x="1092" y="720" width="1" height="3" fill="#000"/><text x="1091" y="732" font-size="9.8" fill="#000" textLength="47.5" lengthAdjust="spacingAndGlyphs" stroke="#000" stroke-width="0.12">17 Jul 2020</text><rect x="1156" y="720" width="1" height="3" fill="#000"/><text x="1155" y="732" font-size="9.8" fill="#000" textLength="46.5" lengthAdjust="spacingAndGlyphs" stroke="#000" stroke-width="0.12">5 Aug 2020</text><rect x="1220" y="720" width="1" height="3" fill="#000"/><text x="1219" y="732" font-size="9.8" fill="#000" textLength="51.7" lengthAdjust="spacingAndGlyphs" stroke="#000" stroke-width="0.12">24 Aug 2020</text><rect x="0" y="740" width="1640" height="1" fill="#e3e3e3"/><rect x="0" y="741" width="1640" height="1" fill="#fff"/><rect x="0" y="742" width="1640" height="1" fill="#000"/><rect x="0" y="743" width="1640" height="1" fill="#fbfbfb"/><rect x="0" y="744" width="1640" height="17" fill="#f0f0f0"/><rect x="0" y="761" width="1640" height="2" fill="#fff"/><rect x="0" y="763" width="1640" height="2" fill="#f0f0f0"/><rect x="0" y="743" width="1" height="18" fill="#696969"/><rect x="313" y="742" width="104" height="19" fill="#000"/><rect x="314" y="742" width="102" height="18" fill="#fff"/><text x="17.0" y="757" font-size="12" fill="#6d6d6d" textLength="80.5" lengthAdjust="spacingAndGlyphs">EURUSD,Daily</text><text x="118.5" y="757" font-size="12" fill="#6d6d6d" textLength="80.0" lengthAdjust="spacingAndGlyphs">USDCHF,Daily</text><text x="219.5" y="757" font-size="12" fill="#6d6d6d" textLength="83.0" lengthAdjust="spacingAndGlyphs">AUDUSD,Daily</text><text x="323.3" y="757" font-size="12" fill="#000" textLength="81.8" lengthAdjust="spacingAndGlyphs">USDCAD,Daily</text><text x="426.3" y="757" font-size="12" fill="#6d6d6d" textLength="84.0" lengthAdjust="spacingAndGlyphs">USDCNH,Daily</text><text x="532.5" y="757" font-size="12" fill="#6d6d6d" textLength="81.3" lengthAdjust="spacingAndGlyphs">EURUSD,Daily</text><text x="636.5" y="757" font-size="12" fill="#6d6d6d" textLength="68.9" lengthAdjust="spacingAndGlyphs">GBPUSD,H4</text><text x="727.5" y="757" font-size="12" fill="#6d6d6d" textLength="69.2" lengthAdjust="spacingAndGlyphs">XAUUSD,H1</text><text x="819.5" y="757" font-size="12" fill="#6d6d6d" textLength="50.6" lengthAdjust="spacingAndGlyphs">HK50,H1</text><text x="891.5" y="757" font-size="12" fill="#6d6d6d" textLength="58.0" lengthAdjust="spacingAndGlyphs">UK100,H1</text><text x="971.8" y="757" font-size="12" fill="#6d6d6d" textLength="57.3" lengthAdjust="spacingAndGlyphs">UK100,H1</text><text x="1051.5" y="757" font-size="12" fill="#6d6d6d" textLength="57.4" lengthAdjust="spacingAndGlyphs">GER30,H1</text><text x="1130.9" y="757" font-size="12" fill="#6d6d6d" textLength="55.2" lengthAdjust="spacingAndGlyphs">FRA40,H1</text><text x="1206.5" y="757" font-size="12" fill="#6d6d6d" textLength="52.0" lengthAdjust="spacingAndGlyphs">USOil,H4</text><text x="1278.5" y="757" font-size="12" fill="#6d6d6d" textLength="63.3" lengthAdjust="spacingAndGlyphs">USDJPY,H1</text><text x="1362.4" y="757" font-size="12" fill="#6d6d6d" textLength="60.0" lengthAdjust="spacingAndGlyphs">DJ30,Daily</text><text x="1442.5" y="757" font-size="12" fill="#6d6d6d" textLength="80.0" lengthAdjust="spacingAndGlyphs">CHINA300,H1</text><text x="1542.7" y="757" font-size="12" fill="#6d6d6d" textLength="51.8" lengthAdjust="spacingAndGlyphs">USOil,H1</text><rect x="109" y="747" width="1" height="11" fill="#808080"/><rect x="209" y="747" width="1" height="11" fill="#808080"/><rect x="521" y="747" width="1" height="11" fill="#808080"/><rect x="625" y="747" width="1" height="11" fill="#808080"/><rect x="717" y="747" width="1" height="11" fill="#808080"/><rect x="809" y="747" width="1" height="11" fill="#808080"/><rect x="881" y="747" width="1" height="11" fill="#808080"/><rect x="961" y="747" width="1" height="11" fill="#808080"/><rect x="1041" y="747" width="1" height="11" fill="#808080"/><rect x="1121" y="747" width="1" height="11" fill="#808080"/><rect x="1197" y="747" width="1" height="11" fill="#808080"/><rect x="1269" y="747" width="1" height="11" fill="#808080"/><rect x="1353" y="747" width="1" height="11" fill="#808080"/><rect x="1433" y="747" width="1" height="11" fill="#808080"/><rect x="1533" y="747" width="1" height="11" fill="#808080"/><rect x="1605" y="747" width="1" height="11" fill="#808080"/><path d="M1611 752.5 L1615 749 L1615 756 Z" fill="#a0a0a0"/><path d="M1634 752.5 L1630 749 L1630 756 Z" fill="#000"/>
</svg>
</body></html>
